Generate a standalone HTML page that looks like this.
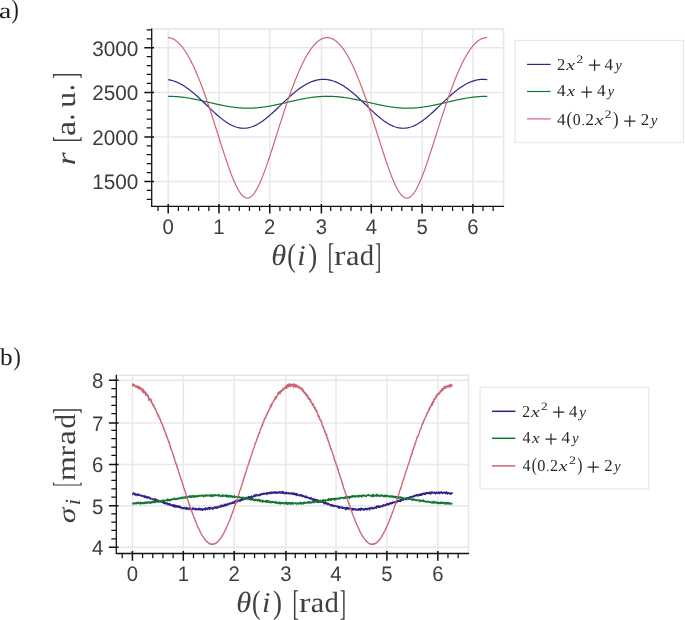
<!DOCTYPE html>
<html><head><meta charset="utf-8"><title>chart</title>
<style>
html,body{margin:0;padding:0;background:#fff;}
text{text-rendering:geometricPrecision;}
svg{will-change:transform;transform:translateZ(0);}
body{width:685px;height:620px;overflow:hidden;font-family:"Liberation Sans",sans-serif;}
svg{display:block}
</style></head>
<body>
<svg width="685" height="620" viewBox="0 0 685 620">

<path d="M151.7 28.9H503.5V206.4" fill="none" stroke="#e8e8e8" stroke-width="1.6"/>
<line x1="168.2" y1="28.9" x2="168.2" y2="206.4" stroke="#e8e8e8" stroke-width="1.5"/>
<line x1="218.98" y1="28.9" x2="218.98" y2="206.4" stroke="#e8e8e8" stroke-width="1.5"/>
<line x1="269.76" y1="28.9" x2="269.76" y2="206.4" stroke="#e8e8e8" stroke-width="1.5"/>
<line x1="321.39" y1="28.9" x2="321.39" y2="206.4" stroke="#e8e8e8" stroke-width="1.5"/>
<line x1="371.32" y1="28.9" x2="371.32" y2="206.4" stroke="#e8e8e8" stroke-width="1.5"/>
<line x1="422.1" y1="28.9" x2="422.1" y2="206.4" stroke="#e8e8e8" stroke-width="1.5"/>
<line x1="472.88" y1="28.9" x2="472.88" y2="206.4" stroke="#e8e8e8" stroke-width="1.5"/>
<line x1="151.7" y1="47.7" x2="503.5" y2="47.7" stroke="#e8e8e8" stroke-width="1.5"/>
<line x1="151.7" y1="92.5" x2="503.5" y2="92.5" stroke="#e8e8e8" stroke-width="1.5"/>
<line x1="151.7" y1="137.1" x2="503.5" y2="137.1" stroke="#e8e8e8" stroke-width="1.5"/>
<line x1="151.7" y1="181.4" x2="503.5" y2="181.4" stroke="#e8e8e8" stroke-width="1.5"/>
<path d="M168.2 79.68 L169 79.81 L169.8 79.96 L170.59 80.13 L171.39 80.32 L172.19 80.53 L172.99 80.76 L173.78 81.02 L174.58 81.29 L175.38 81.58 L176.18 81.9 L176.97 82.23 L177.77 82.58 L178.57 82.96 L179.37 83.35 L180.16 83.76 L180.96 84.19 L181.76 84.63 L182.56 85.1 L183.36 85.58 L184.15 86.08 L184.95 86.6 L185.75 87.13 L186.55 87.68 L187.34 88.24 L188.14 88.82 L188.94 89.41 L189.74 90.02 L190.53 90.64 L191.33 91.27 L192.13 91.92 L192.93 92.57 L193.72 93.24 L194.52 93.92 L195.32 94.61 L196.12 95.31 L196.92 96.02 L197.71 96.74 L198.51 97.47 L199.31 98.2 L200.11 98.94 L200.9 99.69 L201.7 100.44 L202.5 101.19 L203.3 101.95 L204.09 102.71 L204.89 103.48 L205.69 104.24 L206.49 105.01 L207.28 105.78 L208.08 106.55 L208.88 107.31 L209.68 108.08 L210.48 108.84 L211.27 109.6 L212.07 110.35 L212.87 111.1 L213.67 111.84 L214.46 112.57 L215.26 113.3 L216.06 114.02 L216.86 114.73 L217.65 115.43 L218.45 116.11 L219.25 116.79 L220.05 117.46 L220.84 118.11 L221.64 118.74 L222.44 119.37 L223.24 119.97 L224.04 120.56 L224.83 121.14 L225.63 121.69 L226.43 122.23 L227.23 122.75 L228.02 123.24 L228.82 123.72 L229.62 124.18 L230.42 124.61 L231.21 125.03 L232.01 125.42 L232.81 125.78 L233.61 126.13 L234.4 126.44 L235.2 126.74 L236 127.01 L236.8 127.25 L237.6 127.47 L238.39 127.66 L239.19 127.82 L239.99 127.96 L240.79 128.07 L241.58 128.16 L242.38 128.21 L243.18 128.24 L243.98 128.25 L244.77 128.22 L245.57 128.17 L246.37 128.09 L247.17 127.98 L247.97 127.85 L248.76 127.69 L249.56 127.5 L250.36 127.29 L251.16 127.05 L251.95 126.79 L252.75 126.5 L253.55 126.18 L254.35 125.85 L255.14 125.48 L255.94 125.1 L256.74 124.69 L257.54 124.26 L258.33 123.81 L259.13 123.33 L259.93 122.84 L260.73 122.32 L261.53 121.79 L262.32 121.24 L263.12 120.67 L263.92 120.08 L264.72 119.47 L265.51 118.85 L266.31 118.22 L267.11 117.57 L267.91 116.91 L268.7 116.24 L269.5 115.55 L270.3 114.85 L271.1 114.14 L271.89 113.43 L272.69 112.7 L273.49 111.97 L274.29 111.23 L275.09 110.48 L275.88 109.73 L276.68 108.97 L277.48 108.21 L278.28 107.45 L279.07 106.68 L279.87 105.92 L280.67 105.15 L281.47 104.38 L282.26 103.61 L283.06 102.85 L283.86 102.09 L284.66 101.33 L285.45 100.57 L286.25 99.82 L287.05 99.07 L287.85 98.33 L288.65 97.6 L289.44 96.87 L290.24 96.15 L291.04 95.44 L291.84 94.74 L292.63 94.04 L293.43 93.36 L294.23 92.69 L295.03 92.03 L295.82 91.38 L296.62 90.75 L297.42 90.12 L298.22 89.52 L299.01 88.92 L299.81 88.34 L300.61 87.77 L301.41 87.22 L302.21 86.69 L303 86.17 L303.8 85.67 L304.6 85.18 L305.4 84.72 L306.19 84.27 L306.99 83.83 L307.79 83.42 L308.59 83.03 L309.38 82.65 L310.18 82.29 L310.98 81.96 L311.78 81.64 L312.57 81.34 L313.37 81.06 L314.17 80.81 L314.97 80.57 L315.77 80.35 L316.56 80.16 L317.36 79.99 L318.16 79.83 L318.96 79.7 L319.75 79.59 L320.55 79.51 L321.35 79.44 L322.15 79.39 L322.94 79.37 L323.74 79.37 L324.54 79.39 L325.34 79.43 L326.13 79.49 L326.93 79.58 L327.73 79.68 L328.53 79.81 L329.33 79.96 L330.12 80.13 L330.92 80.32 L331.72 80.53 L332.52 80.76 L333.31 81.02 L334.11 81.29 L334.91 81.58 L335.71 81.9 L336.5 82.23 L337.3 82.58 L338.1 82.96 L338.9 83.35 L339.69 83.76 L340.49 84.19 L341.29 84.63 L342.09 85.1 L342.89 85.58 L343.68 86.08 L344.48 86.6 L345.28 87.13 L346.08 87.68 L346.87 88.24 L347.67 88.82 L348.47 89.41 L349.27 90.02 L350.06 90.64 L350.86 91.27 L351.66 91.92 L352.46 92.57 L353.25 93.24 L354.05 93.92 L354.85 94.61 L355.65 95.31 L356.45 96.02 L357.24 96.74 L358.04 97.47 L358.84 98.2 L359.64 98.94 L360.43 99.69 L361.23 100.44 L362.03 101.19 L362.83 101.95 L363.62 102.71 L364.42 103.48 L365.22 104.24 L366.02 105.01 L366.81 105.78 L367.61 106.55 L368.41 107.31 L369.21 108.08 L370.01 108.84 L370.8 109.6 L371.6 110.35 L372.4 111.1 L373.2 111.84 L373.99 112.57 L374.79 113.3 L375.59 114.02 L376.39 114.73 L377.18 115.43 L377.98 116.11 L378.78 116.79 L379.58 117.46 L380.37 118.11 L381.17 118.74 L381.97 119.37 L382.77 119.97 L383.57 120.56 L384.36 121.14 L385.16 121.69 L385.96 122.23 L386.76 122.75 L387.55 123.24 L388.35 123.72 L389.15 124.18 L389.95 124.61 L390.74 125.03 L391.54 125.42 L392.34 125.78 L393.14 126.13 L393.94 126.44 L394.73 126.74 L395.53 127.01 L396.33 127.25 L397.13 127.47 L397.92 127.66 L398.72 127.82 L399.52 127.96 L400.32 128.07 L401.11 128.16 L401.91 128.21 L402.71 128.24 L403.51 128.25 L404.3 128.22 L405.1 128.17 L405.9 128.09 L406.7 127.98 L407.5 127.85 L408.29 127.69 L409.09 127.5 L409.89 127.29 L410.69 127.05 L411.48 126.79 L412.28 126.5 L413.08 126.18 L413.88 125.85 L414.67 125.48 L415.47 125.1 L416.27 124.69 L417.07 124.26 L417.86 123.81 L418.66 123.33 L419.46 122.84 L420.26 122.32 L421.06 121.79 L421.85 121.24 L422.65 120.67 L423.45 120.08 L424.25 119.47 L425.04 118.85 L425.84 118.22 L426.64 117.57 L427.44 116.91 L428.23 116.24 L429.03 115.55 L429.83 114.85 L430.63 114.14 L431.42 113.43 L432.22 112.7 L433.02 111.97 L433.82 111.23 L434.62 110.48 L435.41 109.73 L436.21 108.97 L437.01 108.21 L437.81 107.45 L438.6 106.68 L439.4 105.92 L440.2 105.15 L441 104.38 L441.79 103.61 L442.59 102.85 L443.39 102.09 L444.19 101.33 L444.98 100.57 L445.78 99.82 L446.58 99.07 L447.38 98.33 L448.18 97.6 L448.97 96.87 L449.77 96.15 L450.57 95.44 L451.37 94.74 L452.16 94.04 L452.96 93.36 L453.76 92.69 L454.56 92.03 L455.35 91.38 L456.15 90.75 L456.95 90.12 L457.75 89.52 L458.54 88.92 L459.34 88.34 L460.14 87.77 L460.94 87.22 L461.74 86.69 L462.53 86.17 L463.33 85.67 L464.13 85.18 L464.93 84.72 L465.72 84.27 L466.52 83.83 L467.32 83.42 L468.12 83.03 L468.91 82.65 L469.71 82.29 L470.51 81.96 L471.31 81.64 L472.1 81.34 L472.9 81.06 L473.7 80.81 L474.5 80.57 L475.3 80.35 L476.09 80.16 L476.89 79.99 L477.69 79.83 L478.49 79.7 L479.28 79.59 L480.08 79.51 L480.88 79.44 L481.68 79.39 L482.47 79.37 L483.27 79.37 L484.07 79.39 L484.87 79.43 L485.66 79.49 L486.46 79.58 L487.26 79.68" fill="none" stroke="#332288" stroke-width="1.2" stroke-linejoin="round"/>
<path d="M168.2 96.31 L169 96.32 L169.8 96.33 L170.59 96.34 L171.39 96.36 L172.19 96.39 L172.99 96.42 L173.78 96.45 L174.58 96.5 L175.38 96.54 L176.18 96.6 L176.97 96.66 L177.77 96.72 L178.57 96.79 L179.37 96.86 L180.16 96.94 L180.96 97.03 L181.76 97.12 L182.56 97.21 L183.36 97.31 L184.15 97.42 L184.95 97.53 L185.75 97.64 L186.55 97.76 L187.34 97.88 L188.14 98.01 L188.94 98.14 L189.74 98.28 L190.53 98.42 L191.33 98.56 L192.13 98.71 L192.93 98.86 L193.72 99.01 L194.52 99.17 L195.32 99.33 L196.12 99.49 L196.92 99.65 L197.71 99.82 L198.51 99.99 L199.31 100.16 L200.11 100.34 L200.9 100.52 L201.7 100.69 L202.5 100.87 L203.3 101.06 L204.09 101.24 L204.89 101.42 L205.69 101.61 L206.49 101.79 L207.28 101.98 L208.08 102.16 L208.88 102.35 L209.68 102.54 L210.48 102.72 L211.27 102.91 L212.07 103.09 L212.87 103.28 L213.67 103.46 L214.46 103.64 L215.26 103.82 L216.06 104 L216.86 104.18 L217.65 104.36 L218.45 104.53 L219.25 104.7 L220.05 104.87 L220.84 105.04 L221.64 105.2 L222.44 105.36 L223.24 105.52 L224.04 105.68 L224.83 105.83 L225.63 105.98 L226.43 106.12 L227.23 106.26 L228.02 106.4 L228.82 106.53 L229.62 106.66 L230.42 106.78 L231.21 106.9 L232.01 107.02 L232.81 107.13 L233.61 107.23 L234.4 107.33 L235.2 107.42 L236 107.51 L236.8 107.6 L237.6 107.68 L238.39 107.75 L239.19 107.82 L239.99 107.88 L240.79 107.94 L241.58 107.99 L242.38 108.03 L243.18 108.07 L243.98 108.1 L244.77 108.13 L245.57 108.15 L246.37 108.17 L247.17 108.17 L247.97 108.18 L248.76 108.17 L249.56 108.17 L250.36 108.15 L251.16 108.13 L251.95 108.1 L252.75 108.07 L253.55 108.03 L254.35 107.99 L255.14 107.94 L255.94 107.88 L256.74 107.82 L257.54 107.75 L258.33 107.68 L259.13 107.6 L259.93 107.51 L260.73 107.42 L261.53 107.33 L262.32 107.23 L263.12 107.13 L263.92 107.02 L264.72 106.9 L265.51 106.78 L266.31 106.66 L267.11 106.53 L267.91 106.4 L268.7 106.26 L269.5 106.12 L270.3 105.98 L271.1 105.83 L271.89 105.68 L272.69 105.52 L273.49 105.36 L274.29 105.2 L275.09 105.04 L275.88 104.87 L276.68 104.7 L277.48 104.53 L278.28 104.36 L279.07 104.18 L279.87 104 L280.67 103.82 L281.47 103.64 L282.26 103.46 L283.06 103.28 L283.86 103.09 L284.66 102.91 L285.45 102.72 L286.25 102.54 L287.05 102.35 L287.85 102.16 L288.65 101.98 L289.44 101.79 L290.24 101.61 L291.04 101.42 L291.84 101.24 L292.63 101.06 L293.43 100.87 L294.23 100.69 L295.03 100.52 L295.82 100.34 L296.62 100.16 L297.42 99.99 L298.22 99.82 L299.01 99.65 L299.81 99.49 L300.61 99.33 L301.41 99.17 L302.21 99.01 L303 98.86 L303.8 98.71 L304.6 98.56 L305.4 98.42 L306.19 98.28 L306.99 98.14 L307.79 98.01 L308.59 97.88 L309.38 97.76 L310.18 97.64 L310.98 97.53 L311.78 97.42 L312.57 97.31 L313.37 97.21 L314.17 97.12 L314.97 97.03 L315.77 96.94 L316.56 96.86 L317.36 96.79 L318.16 96.72 L318.96 96.66 L319.75 96.6 L320.55 96.54 L321.35 96.5 L322.15 96.45 L322.94 96.42 L323.74 96.39 L324.54 96.36 L325.34 96.34 L326.13 96.33 L326.93 96.32 L327.73 96.31 L328.53 96.32 L329.33 96.33 L330.12 96.34 L330.92 96.36 L331.72 96.39 L332.52 96.42 L333.31 96.45 L334.11 96.5 L334.91 96.54 L335.71 96.6 L336.5 96.66 L337.3 96.72 L338.1 96.79 L338.9 96.86 L339.69 96.94 L340.49 97.03 L341.29 97.12 L342.09 97.21 L342.89 97.31 L343.68 97.42 L344.48 97.53 L345.28 97.64 L346.08 97.76 L346.87 97.88 L347.67 98.01 L348.47 98.14 L349.27 98.28 L350.06 98.42 L350.86 98.56 L351.66 98.71 L352.46 98.86 L353.25 99.01 L354.05 99.17 L354.85 99.33 L355.65 99.49 L356.45 99.65 L357.24 99.82 L358.04 99.99 L358.84 100.16 L359.64 100.34 L360.43 100.52 L361.23 100.69 L362.03 100.87 L362.83 101.06 L363.62 101.24 L364.42 101.42 L365.22 101.61 L366.02 101.79 L366.81 101.98 L367.61 102.16 L368.41 102.35 L369.21 102.54 L370.01 102.72 L370.8 102.91 L371.6 103.09 L372.4 103.28 L373.2 103.46 L373.99 103.64 L374.79 103.82 L375.59 104 L376.39 104.18 L377.18 104.36 L377.98 104.53 L378.78 104.7 L379.58 104.87 L380.37 105.04 L381.17 105.2 L381.97 105.36 L382.77 105.52 L383.57 105.68 L384.36 105.83 L385.16 105.98 L385.96 106.12 L386.76 106.26 L387.55 106.4 L388.35 106.53 L389.15 106.66 L389.95 106.78 L390.74 106.9 L391.54 107.02 L392.34 107.13 L393.14 107.23 L393.94 107.33 L394.73 107.42 L395.53 107.51 L396.33 107.6 L397.13 107.68 L397.92 107.75 L398.72 107.82 L399.52 107.88 L400.32 107.94 L401.11 107.99 L401.91 108.03 L402.71 108.07 L403.51 108.1 L404.3 108.13 L405.1 108.15 L405.9 108.17 L406.7 108.17 L407.5 108.18 L408.29 108.17 L409.09 108.17 L409.89 108.15 L410.69 108.13 L411.48 108.1 L412.28 108.07 L413.08 108.03 L413.88 107.99 L414.67 107.94 L415.47 107.88 L416.27 107.82 L417.07 107.75 L417.86 107.68 L418.66 107.6 L419.46 107.51 L420.26 107.42 L421.06 107.33 L421.85 107.23 L422.65 107.13 L423.45 107.02 L424.25 106.9 L425.04 106.78 L425.84 106.66 L426.64 106.53 L427.44 106.4 L428.23 106.26 L429.03 106.12 L429.83 105.98 L430.63 105.83 L431.42 105.68 L432.22 105.52 L433.02 105.36 L433.82 105.2 L434.62 105.04 L435.41 104.87 L436.21 104.7 L437.01 104.53 L437.81 104.36 L438.6 104.18 L439.4 104 L440.2 103.82 L441 103.64 L441.79 103.46 L442.59 103.28 L443.39 103.09 L444.19 102.91 L444.98 102.72 L445.78 102.54 L446.58 102.35 L447.38 102.16 L448.18 101.98 L448.97 101.79 L449.77 101.61 L450.57 101.42 L451.37 101.24 L452.16 101.06 L452.96 100.87 L453.76 100.69 L454.56 100.52 L455.35 100.34 L456.15 100.16 L456.95 99.99 L457.75 99.82 L458.54 99.65 L459.34 99.49 L460.14 99.33 L460.94 99.17 L461.74 99.01 L462.53 98.86 L463.33 98.71 L464.13 98.56 L464.93 98.42 L465.72 98.28 L466.52 98.14 L467.32 98.01 L468.12 97.88 L468.91 97.76 L469.71 97.64 L470.51 97.53 L471.31 97.42 L472.1 97.31 L472.9 97.21 L473.7 97.12 L474.5 97.03 L475.3 96.94 L476.09 96.86 L476.89 96.79 L477.69 96.72 L478.49 96.66 L479.28 96.6 L480.08 96.54 L480.88 96.5 L481.68 96.45 L482.47 96.42 L483.27 96.39 L484.07 96.36 L484.87 96.34 L485.66 96.33 L486.46 96.32 L487.26 96.31" fill="none" stroke="#117733" stroke-width="1.2" stroke-linejoin="round"/>
<path d="M168.2 37.64 L169 37.71 L169.8 37.84 L170.59 38.02 L171.39 38.26 L172.19 38.55 L172.99 38.91 L173.78 39.31 L174.58 39.78 L175.38 40.3 L176.18 40.87 L176.97 41.5 L177.77 42.18 L178.57 42.92 L179.37 43.71 L180.16 44.56 L180.96 45.46 L181.76 46.42 L182.56 47.42 L183.36 48.48 L184.15 49.59 L184.95 50.76 L185.75 51.97 L186.55 53.23 L187.34 54.55 L188.14 55.91 L188.94 57.33 L189.74 58.79 L190.53 60.3 L191.33 61.85 L192.13 63.46 L192.93 65.11 L193.72 66.8 L194.52 68.54 L195.32 70.32 L196.12 72.14 L196.92 74.01 L197.71 75.92 L198.51 77.87 L199.31 79.85 L200.11 81.88 L200.9 83.94 L201.7 86.03 L202.5 88.17 L203.3 90.33 L204.09 92.53 L204.89 94.76 L205.69 97.02 L206.49 99.31 L207.28 101.63 L208.08 103.97 L208.88 106.33 L209.68 108.72 L210.48 111.13 L211.27 113.56 L212.07 116.01 L212.87 118.48 L213.67 120.95 L214.46 123.45 L215.26 125.95 L216.06 128.46 L216.86 130.97 L217.65 133.49 L218.45 136.01 L219.25 138.53 L220.05 141.05 L220.84 143.56 L221.64 146.06 L222.44 148.54 L223.24 151.02 L224.04 153.47 L224.83 155.9 L225.63 158.31 L226.43 160.69 L227.23 163.03 L228.02 165.34 L228.82 167.61 L229.62 169.84 L230.42 172.01 L231.21 174.13 L232.01 176.2 L232.81 178.2 L233.61 180.13 L234.4 181.99 L235.2 183.78 L236 185.48 L236.8 187.09 L237.6 188.61 L238.39 190.03 L239.19 191.36 L239.99 192.57 L240.79 193.68 L241.58 194.66 L242.38 195.53 L243.18 196.28 L243.98 196.9 L244.77 197.4 L245.57 197.76 L246.37 197.99 L247.17 198.09 L247.97 198.05 L248.76 197.88 L249.56 197.58 L250.36 197.15 L251.16 196.59 L251.95 195.9 L252.75 195.09 L253.55 194.16 L254.35 193.11 L255.14 191.94 L255.94 190.67 L256.74 189.3 L257.54 187.82 L258.33 186.25 L259.13 184.59 L259.93 182.84 L260.73 181.02 L261.53 179.12 L262.32 177.15 L263.12 175.12 L263.92 173.02 L264.72 170.87 L265.51 168.67 L266.31 166.42 L267.11 164.13 L267.91 161.8 L268.7 159.44 L269.5 157.04 L270.3 154.62 L271.1 152.18 L271.89 149.71 L272.69 147.23 L273.49 144.74 L274.29 142.23 L275.09 139.72 L275.88 137.2 L276.68 134.68 L277.48 132.16 L278.28 129.64 L279.07 127.13 L279.87 124.62 L280.67 122.13 L281.47 119.64 L282.26 117.17 L283.06 114.72 L283.86 112.28 L284.66 109.86 L285.45 107.46 L286.25 105.08 L287.05 102.73 L287.85 100.4 L288.65 98.1 L289.44 95.82 L290.24 93.58 L291.04 91.37 L291.84 89.19 L292.63 87.04 L293.43 84.92 L294.23 82.84 L295.03 80.8 L295.82 78.8 L296.62 76.83 L297.42 74.91 L298.22 73.02 L299.01 71.18 L299.81 69.37 L300.61 67.62 L301.41 65.9 L302.21 64.23 L303 62.61 L303.8 61.03 L304.6 59.49 L305.4 58.01 L306.19 56.57 L306.99 55.19 L307.79 53.85 L308.59 52.56 L309.38 51.32 L310.18 50.13 L310.98 49 L311.78 47.92 L312.57 46.88 L313.37 45.91 L314.17 44.98 L314.97 44.11 L315.77 43.29 L316.56 42.53 L317.36 41.82 L318.16 41.16 L318.96 40.56 L319.75 40.02 L320.55 39.53 L321.35 39.09 L322.15 38.71 L322.94 38.39 L323.74 38.13 L324.54 37.92 L325.34 37.76 L326.13 37.66 L326.93 37.62 L327.73 37.64 L328.53 37.71 L329.33 37.84 L330.12 38.02 L330.92 38.26 L331.72 38.55 L332.52 38.91 L333.31 39.31 L334.11 39.78 L334.91 40.3 L335.71 40.87 L336.5 41.5 L337.3 42.18 L338.1 42.92 L338.9 43.71 L339.69 44.56 L340.49 45.46 L341.29 46.42 L342.09 47.42 L342.89 48.48 L343.68 49.59 L344.48 50.76 L345.28 51.97 L346.08 53.23 L346.87 54.55 L347.67 55.91 L348.47 57.33 L349.27 58.79 L350.06 60.3 L350.86 61.85 L351.66 63.46 L352.46 65.11 L353.25 66.8 L354.05 68.54 L354.85 70.32 L355.65 72.14 L356.45 74.01 L357.24 75.92 L358.04 77.87 L358.84 79.85 L359.64 81.88 L360.43 83.94 L361.23 86.03 L362.03 88.17 L362.83 90.33 L363.62 92.53 L364.42 94.76 L365.22 97.02 L366.02 99.31 L366.81 101.63 L367.61 103.97 L368.41 106.33 L369.21 108.72 L370.01 111.13 L370.8 113.56 L371.6 116.01 L372.4 118.48 L373.2 120.95 L373.99 123.45 L374.79 125.95 L375.59 128.46 L376.39 130.97 L377.18 133.49 L377.98 136.01 L378.78 138.53 L379.58 141.05 L380.37 143.56 L381.17 146.06 L381.97 148.54 L382.77 151.02 L383.57 153.47 L384.36 155.9 L385.16 158.31 L385.96 160.69 L386.76 163.03 L387.55 165.34 L388.35 167.61 L389.15 169.84 L389.95 172.01 L390.74 174.13 L391.54 176.2 L392.34 178.2 L393.14 180.13 L393.94 181.99 L394.73 183.78 L395.53 185.48 L396.33 187.09 L397.13 188.61 L397.92 190.03 L398.72 191.36 L399.52 192.57 L400.32 193.68 L401.11 194.66 L401.91 195.53 L402.71 196.28 L403.51 196.9 L404.3 197.4 L405.1 197.76 L405.9 197.99 L406.7 198.09 L407.5 198.05 L408.29 197.88 L409.09 197.58 L409.89 197.15 L410.69 196.59 L411.48 195.9 L412.28 195.09 L413.08 194.16 L413.88 193.11 L414.67 191.94 L415.47 190.67 L416.27 189.3 L417.07 187.82 L417.86 186.25 L418.66 184.59 L419.46 182.84 L420.26 181.02 L421.06 179.12 L421.85 177.15 L422.65 175.12 L423.45 173.02 L424.25 170.87 L425.04 168.67 L425.84 166.42 L426.64 164.13 L427.44 161.8 L428.23 159.44 L429.03 157.04 L429.83 154.62 L430.63 152.18 L431.42 149.71 L432.22 147.23 L433.02 144.74 L433.82 142.23 L434.62 139.72 L435.41 137.2 L436.21 134.68 L437.01 132.16 L437.81 129.64 L438.6 127.13 L439.4 124.62 L440.2 122.13 L441 119.64 L441.79 117.17 L442.59 114.72 L443.39 112.28 L444.19 109.86 L444.98 107.46 L445.78 105.08 L446.58 102.73 L447.38 100.4 L448.18 98.1 L448.97 95.82 L449.77 93.58 L450.57 91.37 L451.37 89.19 L452.16 87.04 L452.96 84.92 L453.76 82.84 L454.56 80.8 L455.35 78.8 L456.15 76.83 L456.95 74.91 L457.75 73.02 L458.54 71.18 L459.34 69.37 L460.14 67.62 L460.94 65.9 L461.74 64.23 L462.53 62.61 L463.33 61.03 L464.13 59.49 L464.93 58.01 L465.72 56.57 L466.52 55.19 L467.32 53.85 L468.12 52.56 L468.91 51.32 L469.71 50.13 L470.51 49 L471.31 47.92 L472.1 46.88 L472.9 45.91 L473.7 44.98 L474.5 44.11 L475.3 43.29 L476.09 42.53 L476.89 41.82 L477.69 41.16 L478.49 40.56 L479.28 40.02 L480.08 39.53 L480.88 39.09 L481.68 38.71 L482.47 38.39 L483.27 38.13 L484.07 37.92 L484.87 37.76 L485.66 37.66 L486.46 37.62 L487.26 37.64" fill="none" stroke="#CC6677" stroke-width="1.2" stroke-linejoin="round"/>
<path d="M151.7 28.4V206.4H504.0" fill="none" stroke="#111" stroke-width="1.3"/>
<path d="M158.04 206.4v4.7M178.36 206.4v4.7M188.51 206.4v4.7M198.67 206.4v4.7M208.82 206.4v4.7M229.14 206.4v4.7M239.29 206.4v4.7M249.45 206.4v4.7M259.6 206.4v4.7M279.92 206.4v4.7M290.07 206.4v4.7M300.23 206.4v4.7M310.38 206.4v4.7M330.7 206.4v4.7M340.85 206.4v4.7M351.01 206.4v4.7M361.16 206.4v4.7M381.48 206.4v4.7M391.63 206.4v4.7M401.79 206.4v4.7M411.94 206.4v4.7M432.26 206.4v4.7M442.41 206.4v4.7M452.57 206.4v4.7M462.72 206.4v4.7M483.04 206.4v4.7M493.19 206.4v4.7M151.7 199.34h-5M151.7 190.42h-5M151.7 172.58h-5M151.7 163.66h-5M151.7 154.74h-5M151.7 145.82h-5M151.7 127.98h-5M151.7 119.06h-5M151.7 110.14h-5M151.7 101.22h-5M151.7 83.38h-5M151.7 74.46h-5M151.7 65.54h-5M151.7 56.62h-5M151.7 38.78h-5M151.7 29.86h-5" fill="none" stroke="#111" stroke-width="1.25"/>
<path d="M168.2 204.0v9.6M218.98 204.0v9.6M269.76 204.0v9.6M321.39 204.0v9.6M371.32 204.0v9.6M422.1 204.0v9.6M472.88 204.0v9.6M154.0 47.7h-9.7M154.0 92.5h-9.7M154.0 137.1h-9.7M154.0 181.4h-9.7" fill="none" stroke="#111" stroke-width="1.5"/>
<text x="168.2" y="233.7" text-anchor="middle" font-family="Liberation Sans, sans-serif" font-size="21" fill="#3d3d3d" textLength="11.3" lengthAdjust="spacingAndGlyphs">0</text>
<text x="218.98" y="233.7" text-anchor="middle" font-family="Liberation Sans, sans-serif" font-size="21" fill="#3d3d3d" textLength="11.3" lengthAdjust="spacingAndGlyphs">1</text>
<text x="269.76" y="233.7" text-anchor="middle" font-family="Liberation Sans, sans-serif" font-size="21" fill="#3d3d3d" textLength="11.3" lengthAdjust="spacingAndGlyphs">2</text>
<text x="321.39" y="233.7" text-anchor="middle" font-family="Liberation Sans, sans-serif" font-size="21" fill="#3d3d3d" textLength="11.3" lengthAdjust="spacingAndGlyphs">3</text>
<text x="371.32" y="233.7" text-anchor="middle" font-family="Liberation Sans, sans-serif" font-size="21" fill="#3d3d3d" textLength="11.3" lengthAdjust="spacingAndGlyphs">4</text>
<text x="422.1" y="233.7" text-anchor="middle" font-family="Liberation Sans, sans-serif" font-size="21" fill="#3d3d3d" textLength="11.3" lengthAdjust="spacingAndGlyphs">5</text>
<text x="472.88" y="233.7" text-anchor="middle" font-family="Liberation Sans, sans-serif" font-size="21" fill="#3d3d3d" textLength="11.3" lengthAdjust="spacingAndGlyphs">6</text>
<text x="138.4" y="55.55" text-anchor="end" font-family="Liberation Sans, sans-serif" font-size="21" fill="#3d3d3d" textLength="46.2" lengthAdjust="spacingAndGlyphs">3000</text>
<text x="138.4" y="100.35" text-anchor="end" font-family="Liberation Sans, sans-serif" font-size="21" fill="#3d3d3d" textLength="46.2" lengthAdjust="spacingAndGlyphs">2500</text>
<text x="138.4" y="144.95" text-anchor="end" font-family="Liberation Sans, sans-serif" font-size="21" fill="#3d3d3d" textLength="46.2" lengthAdjust="spacingAndGlyphs">2000</text>
<text x="138.4" y="189.25" text-anchor="end" font-family="Liberation Sans, sans-serif" font-size="21" fill="#3d3d3d" textLength="46.2" lengthAdjust="spacingAndGlyphs">1500</text>
<path d="M116.3 375.2H468.5V553.5" fill="none" stroke="#e8e8e8" stroke-width="1.6"/>
<line x1="132.4" y1="375.2" x2="132.4" y2="553.5" stroke="#e8e8e8" stroke-width="1.5"/>
<line x1="183.3" y1="375.2" x2="183.3" y2="553.5" stroke="#e8e8e8" stroke-width="1.5"/>
<line x1="234.2" y1="375.2" x2="234.2" y2="553.5" stroke="#e8e8e8" stroke-width="1.5"/>
<line x1="285.95" y1="375.2" x2="285.95" y2="553.5" stroke="#e8e8e8" stroke-width="1.5"/>
<line x1="336" y1="375.2" x2="336" y2="553.5" stroke="#e8e8e8" stroke-width="1.5"/>
<line x1="386.9" y1="375.2" x2="386.9" y2="553.5" stroke="#e8e8e8" stroke-width="1.5"/>
<line x1="437.8" y1="375.2" x2="437.8" y2="553.5" stroke="#e8e8e8" stroke-width="1.5"/>
<line x1="116.3" y1="380.3" x2="468.5" y2="380.3" stroke="#e8e8e8" stroke-width="1.5"/>
<line x1="116.3" y1="423" x2="468.5" y2="423" stroke="#e8e8e8" stroke-width="1.5"/>
<line x1="116.3" y1="464.4" x2="468.5" y2="464.4" stroke="#e8e8e8" stroke-width="1.5"/>
<line x1="116.3" y1="505.7" x2="468.5" y2="505.7" stroke="#e8e8e8" stroke-width="1.5"/>
<line x1="116.3" y1="547.2" x2="468.5" y2="547.2" stroke="#e8e8e8" stroke-width="1.5"/>
<path d="M132.4 493.88 L132.6 494.3 L132.8 493.77 L133 494.61 L133.2 493.72 L133.4 493.34 L133.6 492.63 L133.8 493.21 L134 493.34 L134.2 493.64 L134.4 493.29 L134.6 494.13 L134.8 493.96 L135 495.12 L135.2 494.48 L135.4 493.7 L135.6 495.16 L135.8 494.19 L136 494.42 L136.2 494.61 L136.4 494.32 L136.6 494.51 L136.8 495.12 L137 494.64 L137.2 495.55 L137.4 493.95 L137.6 494.75 L137.8 494.34 L138 495.28 L138.2 493.96 L138.4 494.41 L138.6 494.79 L138.8 494.9 L139 494.87 L139.2 495.47 L139.4 495.22 L139.6 495.31 L139.8 495.06 L140 494.54 L140.2 494.77 L140.4 495.26 L140.6 495.13 L140.8 495.64 L141 495.79 L141.19 496.4 L141.39 496.28 L141.59 496.29 L141.79 495.79 L141.99 495.89 L142.19 495.64 L142.39 495.34 L142.59 495.63 L142.79 496.09 L142.99 496.3 L143.19 496.27 L143.39 495.88 L143.59 496.69 L143.79 497.03 L143.99 496.45 L144.19 495.88 L144.39 495.85 L144.59 496.21 L144.79 497.52 L144.99 496.7 L145.19 496.33 L145.39 496.2 L145.59 495.88 L145.79 497.32 L145.99 496.73 L146.19 497.74 L146.39 497.13 L146.59 497.28 L146.79 496.74 L146.99 497.12 L147.19 498.13 L147.39 497.38 L147.59 497.2 L147.79 496.72 L147.99 497.86 L148.19 497.99 L148.39 497.91 L148.59 497.17 L148.79 497.89 L148.99 497.76 L149.19 497.65 L149.39 498.34 L149.59 497.45 L149.79 498.86 L149.99 497.21 L150.19 498.51 L150.39 498.69 L150.59 498.67 L150.79 498.94 L150.99 498.86 L151.19 498.89 L151.39 499.13 L151.59 498.7 L151.79 498.52 L151.99 499.03 L152.19 498.72 L152.39 499.29 L152.59 498.83 L152.79 499.16 L152.99 499.61 L153.19 499.08 L153.39 499.28 L153.59 499.59 L153.79 499.35 L153.99 499.12 L154.19 500.06 L154.39 499.77 L154.59 499.27 L154.79 499.65 L154.99 499.32 L155.19 498.59 L155.39 500.47 L155.59 499.73 L155.79 500.16 L155.99 499.33 L156.19 499.82 L156.39 500.86 L156.59 499.7 L156.79 500.3 L156.99 500.52 L157.19 500.43 L157.39 500.39 L157.59 500.99 L157.79 500.82 L157.99 500.02 L158.19 501.27 L158.38 501.13 L158.58 500.51 L158.78 501.43 L158.98 501.13 L159.18 500.94 L159.38 501.61 L159.58 501.38 L159.78 501.74 L159.98 501.46 L160.18 501.28 L160.38 501.48 L160.58 501.43 L160.78 501.43 L160.98 501.29 L161.18 502.28 L161.38 501.76 L161.58 501.1 L161.78 502.07 L161.98 502.15 L162.18 502.08 L162.38 502.5 L162.58 501.93 L162.78 502.28 L162.98 502.42 L163.18 502.03 L163.38 501.87 L163.58 503.24 L163.78 502.85 L163.98 502.8 L164.18 503.43 L164.38 502.45 L164.58 501.8 L164.78 502.52 L164.98 502.35 L165.18 504.02 L165.38 503.33 L165.58 503.83 L165.78 502.85 L165.98 503.36 L166.18 503.45 L166.38 503.18 L166.58 503.11 L166.78 502.74 L166.98 502.93 L167.18 503.21 L167.38 504.55 L167.58 503.18 L167.78 503.82 L167.98 504.68 L168.18 503.9 L168.38 504.17 L168.58 504.15 L168.78 503.69 L168.98 504.9 L169.18 503.97 L169.38 503.75 L169.58 504.97 L169.78 503.77 L169.98 504.86 L170.18 504.96 L170.38 504.18 L170.58 504.71 L170.78 505.68 L170.98 505.14 L171.18 504.54 L171.38 505.21 L171.58 505.23 L171.78 505.05 L171.98 505.11 L172.18 505.51 L172.38 505.69 L172.58 505.06 L172.78 504.72 L172.98 506.66 L173.18 505.24 L173.38 505 L173.58 506 L173.78 504.9 L173.98 506.42 L174.18 505.24 L174.38 504.97 L174.58 505.06 L174.78 507.21 L174.98 505.9 L175.18 506.49 L175.38 505.84 L175.57 505.39 L175.77 505.94 L175.97 505.38 L176.17 507.08 L176.37 506.72 L176.57 506.61 L176.77 506.06 L176.97 505.84 L177.17 506.91 L177.37 507.01 L177.57 506.15 L177.77 507.3 L177.97 506.41 L178.17 507.14 L178.37 506.83 L178.57 505.8 L178.77 507.01 L178.97 506.9 L179.17 507.37 L179.37 506.74 L179.57 506.3 L179.77 506.78 L179.97 507.8 L180.17 507.01 L180.37 506.46 L180.57 507.76 L180.77 507.39 L180.97 507.83 L181.17 507.7 L181.37 507.94 L181.57 508.16 L181.77 507.29 L181.97 507.6 L182.17 508.7 L182.37 508.17 L182.57 508.05 L182.77 508.28 L182.97 507.69 L183.17 507.9 L183.37 507.65 L183.57 508.55 L183.77 508.29 L183.97 508.17 L184.17 508.17 L184.37 508.2 L184.57 508.44 L184.77 508.15 L184.97 507.3 L185.17 508.53 L185.37 509.02 L185.57 508.08 L185.77 508.71 L185.97 507.88 L186.17 507.79 L186.37 507.51 L186.57 508.3 L186.77 509.25 L186.97 507.63 L187.17 508 L187.37 507.85 L187.57 508.47 L187.77 508.72 L187.97 508.56 L188.17 509.52 L188.37 508.13 L188.57 508.96 L188.77 508.99 L188.97 508.52 L189.17 509.16 L189.37 508.35 L189.57 509.08 L189.77 507.62 L189.97 508.19 L190.17 508.5 L190.37 508.7 L190.57 508.85 L190.77 509.15 L190.97 509.88 L191.17 509.21 L191.37 509.35 L191.57 509.23 L191.77 508.95 L191.97 509.95 L192.17 509.65 L192.37 509.38 L192.57 509.29 L192.76 508.62 L192.96 507.76 L193.16 509.18 L193.36 508.79 L193.56 509.13 L193.76 509.01 L193.96 508.28 L194.16 509.08 L194.36 508.89 L194.56 509.16 L194.76 509.51 L194.96 508.67 L195.16 509.3 L195.36 508.49 L195.56 509.79 L195.76 509.01 L195.96 508.41 L196.16 509.56 L196.36 509.08 L196.56 508.52 L196.76 509.05 L196.96 509.68 L197.16 509.44 L197.36 509.12 L197.56 509.58 L197.76 509.49 L197.96 509.22 L198.16 509.91 L198.36 508.46 L198.56 509.59 L198.76 509.3 L198.96 509.24 L199.16 508.58 L199.36 509.48 L199.56 508.26 L199.76 508.35 L199.96 508.91 L200.16 509.95 L200.36 509.92 L200.56 509.39 L200.76 509.12 L200.96 508.93 L201.16 508.64 L201.36 509.01 L201.56 509.2 L201.76 509.03 L201.96 510.23 L202.16 508.63 L202.36 509.96 L202.56 510.16 L202.76 509.53 L202.96 509.38 L203.16 509.77 L203.36 509.25 L203.56 509.09 L203.76 508.81 L203.96 508.91 L204.16 509.35 L204.36 509.02 L204.56 508.43 L204.76 509.18 L204.96 509.1 L205.16 510.08 L205.36 508.85 L205.56 507.96 L205.76 508.59 L205.96 509.05 L206.16 508.3 L206.36 508.28 L206.56 508.2 L206.76 509.44 L206.96 509.42 L207.16 508.46 L207.36 508.53 L207.56 508.55 L207.76 509.48 L207.96 508.34 L208.16 507.74 L208.36 508.08 L208.56 507.37 L208.76 508.39 L208.96 508.54 L209.16 507.67 L209.36 508.05 L209.56 509.67 L209.76 509.27 L209.95 508.33 L210.15 508.7 L210.35 507.51 L210.55 507.59 L210.75 507.71 L210.95 508.48 L211.15 508.4 L211.35 507.86 L211.55 508.39 L211.75 507.85 L211.95 508.01 L212.15 507.74 L212.35 508.04 L212.55 508.44 L212.75 509.49 L212.95 508.67 L213.15 508.69 L213.35 507.58 L213.55 508.61 L213.75 508.14 L213.95 507.57 L214.15 507.43 L214.35 507.22 L214.55 507.47 L214.75 506.88 L214.95 507.91 L215.15 506.99 L215.35 508.22 L215.55 507.71 L215.75 507.25 L215.95 507.11 L216.15 507.51 L216.35 507.66 L216.55 507.91 L216.75 508.4 L216.95 508.19 L217.15 506.35 L217.35 508.03 L217.55 507.87 L217.75 507.86 L217.95 507.13 L218.15 507.08 L218.35 507.2 L218.55 507.51 L218.75 506.88 L218.95 507.48 L219.15 506.55 L219.35 505.91 L219.55 507.1 L219.75 506.46 L219.95 506.78 L220.15 506.67 L220.35 507.09 L220.55 506.34 L220.75 506.33 L220.95 505.63 L221.15 505.01 L221.35 506.71 L221.55 505.55 L221.75 506.49 L221.95 506.29 L222.15 506.56 L222.35 505.67 L222.55 505.24 L222.75 505.86 L222.95 505.64 L223.15 506.11 L223.35 505.8 L223.55 506.25 L223.75 505.57 L223.95 506.5 L224.15 504.27 L224.35 504.73 L224.55 505.61 L224.75 505.5 L224.95 505.42 L225.15 505.09 L225.35 504.97 L225.55 504.08 L225.75 505.21 L225.95 505.88 L226.15 504.73 L226.35 504.59 L226.55 505.16 L226.75 504.27 L226.95 504.72 L227.14 504.97 L227.34 504.55 L227.54 505.1 L227.74 504.59 L227.94 503.46 L228.14 503.66 L228.34 503.9 L228.54 504.08 L228.74 503.94 L228.94 504.62 L229.14 503.87 L229.34 504.26 L229.54 504.15 L229.74 502.98 L229.94 504.08 L230.14 503.62 L230.34 503.54 L230.54 503.02 L230.74 503.58 L230.94 503.15 L231.14 503.14 L231.34 503.36 L231.54 503.5 L231.74 503.67 L231.94 502.54 L232.14 503.45 L232.34 502.37 L232.54 502.04 L232.74 503.1 L232.94 503.24 L233.14 503.2 L233.34 502.89 L233.54 501.9 L233.74 502.89 L233.94 502.97 L234.14 503.2 L234.34 502.26 L234.54 502.02 L234.74 501.42 L234.94 501.98 L235.14 502.06 L235.34 502 L235.54 500.45 L235.74 501.05 L235.94 501.33 L236.14 501.88 L236.34 501.74 L236.54 501.63 L236.74 501.57 L236.94 501.21 L237.14 501.73 L237.34 500.37 L237.54 501.75 L237.74 500.86 L237.94 500.74 L238.14 500.58 L238.34 500.3 L238.54 500.77 L238.74 500.75 L238.94 500.06 L239.14 500.07 L239.34 500.66 L239.54 500.16 L239.74 501.13 L239.94 500.26 L240.14 501.44 L240.34 499.71 L240.54 500.58 L240.74 499.73 L240.94 499.9 L241.14 500.36 L241.34 499.57 L241.54 499.1 L241.74 500.3 L241.94 498.85 L242.14 499.54 L242.34 500.12 L242.54 499.73 L242.74 499.35 L242.94 499.11 L243.14 499.81 L243.34 499.53 L243.54 499.03 L243.74 499.07 L243.94 498.16 L244.14 498.66 L244.33 498.57 L244.53 499.4 L244.73 499.33 L244.93 499.35 L245.13 498.79 L245.33 498.38 L245.53 497.78 L245.73 498.07 L245.93 498.91 L246.13 498.47 L246.33 497.29 L246.53 498.25 L246.73 497.98 L246.93 498.88 L247.13 498.82 L247.33 498.3 L247.53 498.13 L247.73 497.67 L247.93 497.94 L248.13 498.67 L248.33 496.54 L248.53 497.5 L248.73 498.47 L248.93 496.73 L249.13 497.09 L249.33 497.54 L249.53 497.37 L249.73 497.08 L249.93 498.42 L250.13 496.71 L250.33 497.02 L250.53 496.75 L250.73 497.32 L250.93 497.29 L251.13 496.12 L251.33 498.54 L251.53 496.19 L251.73 496.16 L251.93 497.49 L252.13 496.75 L252.33 496.92 L252.53 496.8 L252.73 497.1 L252.93 497.08 L253.13 496.31 L253.33 496.44 L253.53 495.95 L253.73 495.8 L253.93 496.41 L254.13 495.03 L254.33 495.2 L254.53 496.75 L254.73 495.99 L254.93 496.04 L255.13 495.6 L255.33 496.25 L255.53 494.91 L255.73 495.85 L255.93 494.54 L256.13 495.94 L256.33 494.52 L256.53 495.24 L256.73 494.94 L256.93 495.18 L257.13 495.12 L257.33 495.75 L257.53 495.3 L257.73 495.52 L257.93 495.22 L258.13 495.25 L258.33 494.63 L258.53 494.83 L258.73 495.07 L258.93 495.75 L259.13 494.36 L259.33 495.16 L259.53 494.93 L259.73 494.48 L259.93 494.68 L260.13 494.57 L260.33 494.52 L260.53 495.47 L260.73 494.13 L260.93 494.54 L261.13 494.02 L261.33 494.32 L261.52 494.53 L261.72 493.56 L261.92 494.18 L262.12 493.7 L262.32 493.85 L262.52 493.72 L262.72 493.56 L262.92 493.73 L263.12 494.47 L263.32 494.09 L263.52 493.26 L263.72 493.97 L263.92 494.04 L264.12 493.81 L264.32 493.32 L264.52 494.17 L264.72 493.75 L264.92 493.91 L265.12 493.99 L265.32 493.25 L265.52 493.87 L265.72 493.54 L265.92 493.34 L266.12 493.26 L266.32 493.23 L266.52 493.06 L266.72 493.77 L266.92 494.58 L267.12 492.92 L267.32 492.5 L267.52 493.48 L267.72 493.25 L267.92 492.8 L268.12 493.61 L268.32 493.21 L268.52 493.37 L268.72 492.86 L268.92 493.08 L269.12 492.27 L269.32 493.51 L269.52 493.38 L269.72 493.71 L269.92 492.88 L270.12 493.03 L270.32 493.06 L270.52 492.63 L270.72 493.39 L270.92 493.59 L271.12 491.82 L271.32 492.84 L271.52 493.31 L271.72 492.3 L271.92 492.73 L272.12 493.25 L272.32 492.6 L272.52 492.23 L272.72 492.37 L272.92 492.76 L273.12 491.87 L273.32 493.11 L273.52 492.77 L273.72 492.43 L273.92 493.15 L274.12 492.3 L274.32 492.44 L274.52 492.13 L274.72 492.45 L274.92 491.61 L275.12 493.25 L275.32 492.76 L275.52 492.82 L275.72 492.56 L275.92 492.24 L276.12 493.06 L276.32 492.05 L276.52 491.98 L276.72 492.47 L276.92 493.2 L277.12 492.21 L277.32 492.3 L277.52 492.98 L277.72 492.85 L277.92 492.77 L278.12 493.21 L278.32 492.33 L278.52 491.96 L278.71 492.33 L278.91 492.85 L279.11 492.53 L279.31 492.52 L279.51 491.6 L279.71 492.73 L279.91 492.27 L280.11 492.67 L280.31 491.95 L280.51 492.93 L280.71 492.28 L280.91 492.72 L281.11 492.25 L281.31 493.25 L281.51 492.6 L281.71 492.02 L281.91 492.24 L282.11 493.1 L282.31 491.32 L282.51 492.38 L282.71 492.74 L282.91 492.8 L283.11 493.1 L283.31 491.89 L283.51 492.03 L283.71 491.96 L283.91 493.19 L284.11 493.63 L284.31 493.79 L284.51 493.46 L284.71 493.03 L284.91 493.36 L285.11 493.61 L285.31 492.56 L285.51 493.17 L285.71 492.69 L285.91 492.27 L286.11 493.29 L286.31 493.16 L286.51 492.31 L286.71 493.7 L286.91 493.21 L287.11 493.57 L287.31 493.13 L287.51 493.35 L287.71 492.97 L287.91 493.33 L288.11 492.53 L288.31 493.53 L288.51 493.21 L288.71 492.86 L288.91 493.66 L289.11 493.56 L289.31 493.34 L289.51 493.5 L289.71 492.94 L289.91 493.72 L290.11 494.14 L290.31 493.1 L290.51 493.86 L290.71 493.8 L290.91 493.64 L291.11 492.98 L291.31 493.18 L291.51 493.51 L291.71 493.5 L291.91 493.88 L292.11 492.85 L292.31 493.22 L292.51 494.19 L292.71 493.35 L292.91 494.5 L293.11 494.28 L293.31 494.25 L293.51 493.15 L293.71 493 L293.91 494 L294.11 494.3 L294.31 493.43 L294.51 494.39 L294.71 493.37 L294.91 494.68 L295.11 493.76 L295.31 494.68 L295.51 493.46 L295.71 494.3 L295.9 494.73 L296.1 494.39 L296.3 495.68 L296.5 494.5 L296.7 494.24 L296.9 493.45 L297.1 495.19 L297.3 494.11 L297.5 494.11 L297.7 494.43 L297.9 495 L298.1 494.8 L298.3 495.34 L298.5 494.83 L298.7 495.6 L298.9 495.32 L299.1 495.07 L299.3 495.61 L299.5 495.84 L299.7 495.3 L299.9 495.16 L300.1 495.03 L300.3 495.2 L300.5 494.63 L300.7 495.52 L300.9 494.89 L301.1 496.11 L301.3 495.33 L301.5 495.34 L301.7 494.83 L301.9 496.11 L302.1 494.94 L302.3 495.97 L302.5 496.18 L302.7 496.85 L302.9 495.62 L303.1 496.4 L303.3 495.76 L303.5 496.15 L303.7 495.9 L303.9 496.32 L304.1 496.74 L304.3 496.68 L304.5 496.51 L304.7 496.35 L304.9 497.01 L305.1 496.22 L305.3 497.75 L305.5 497.45 L305.7 496.51 L305.9 496.75 L306.1 495.95 L306.3 496.5 L306.5 497.59 L306.7 497.69 L306.9 497.2 L307.1 497.3 L307.3 496.96 L307.5 497.64 L307.7 497.8 L307.9 497.88 L308.1 497.58 L308.3 498.05 L308.5 497.75 L308.7 497.38 L308.9 497.9 L309.1 498.42 L309.3 497.67 L309.5 497.61 L309.7 498.5 L309.9 498.32 L310.1 498.99 L310.3 498.77 L310.5 498.88 L310.7 499.06 L310.9 498.76 L311.1 497.54 L311.3 497.98 L311.5 498.84 L311.7 498.47 L311.9 498.72 L312.1 498.77 L312.3 499.88 L312.5 499.03 L312.7 499.59 L312.9 499.31 L313.09 499.19 L313.29 501.03 L313.49 500.57 L313.69 499.14 L313.89 498.73 L314.09 499.03 L314.29 500.1 L314.49 499.8 L314.69 499.35 L314.89 499.84 L315.09 500.92 L315.29 499.48 L315.49 500.26 L315.69 500.01 L315.89 500.96 L316.09 500.7 L316.29 499.58 L316.49 500.49 L316.69 500.08 L316.89 499.57 L317.09 500.43 L317.29 500.5 L317.49 500.72 L317.69 500.23 L317.89 500.53 L318.09 500.55 L318.29 500.05 L318.49 500.65 L318.69 500.35 L318.89 501.47 L319.09 501.24 L319.29 500.83 L319.49 501.65 L319.69 502.03 L319.89 501.41 L320.09 501.69 L320.29 501.31 L320.49 500.75 L320.69 501.86 L320.89 502.25 L321.09 501.92 L321.29 502.13 L321.49 502.16 L321.69 501.38 L321.89 501.74 L322.09 501.89 L322.29 502.28 L322.49 501.73 L322.69 502.33 L322.89 501.48 L323.09 502.41 L323.29 502.52 L323.49 502.19 L323.69 501.53 L323.89 503.56 L324.09 502.5 L324.29 503.41 L324.49 503.7 L324.69 503.15 L324.89 502.56 L325.09 503.9 L325.29 503.33 L325.49 502.26 L325.69 502.61 L325.89 503.49 L326.09 503.04 L326.29 503.41 L326.49 503.8 L326.69 503.98 L326.89 502.99 L327.09 504.03 L327.29 503.83 L327.49 504.07 L327.69 504.64 L327.89 504.05 L328.09 503.05 L328.29 504.58 L328.49 504.16 L328.69 503.58 L328.89 504.01 L329.09 504.32 L329.29 504.06 L329.49 504.27 L329.69 504.52 L329.89 504.97 L330.09 504.83 L330.28 505.55 L330.48 504.65 L330.68 504.9 L330.88 505.16 L331.08 505.71 L331.28 505.23 L331.48 505.95 L331.68 504.77 L331.88 505.74 L332.08 504.75 L332.28 505.69 L332.48 504.96 L332.68 505.08 L332.88 504.98 L333.08 505.63 L333.28 506.5 L333.48 505.38 L333.68 505.96 L333.88 506.48 L334.08 506.31 L334.28 505.66 L334.48 505.53 L334.68 505.73 L334.88 505.6 L335.08 505.47 L335.28 506.23 L335.48 506.12 L335.68 506.3 L335.88 506.37 L336.08 506.33 L336.28 506.22 L336.48 506.62 L336.68 506.35 L336.88 506 L337.08 506.67 L337.28 506.29 L337.48 507.07 L337.68 507.09 L337.88 505.84 L338.08 506.83 L338.28 506.19 L338.48 507.86 L338.68 508.11 L338.88 506.97 L339.08 507.12 L339.28 508.2 L339.48 506.72 L339.68 506.81 L339.88 507.53 L340.08 506.92 L340.28 506.95 L340.48 507.26 L340.68 507.64 L340.88 507.06 L341.08 507.65 L341.28 507.73 L341.48 508.2 L341.68 507.5 L341.88 506.96 L342.08 507.88 L342.28 507.93 L342.48 508.38 L342.68 507.87 L342.88 507.37 L343.08 507.91 L343.28 507.56 L343.48 507.35 L343.68 508.39 L343.88 508.28 L344.08 507.7 L344.28 508.19 L344.48 508.62 L344.68 508.12 L344.88 507.95 L345.08 507.63 L345.28 508.65 L345.48 508.08 L345.68 508.04 L345.88 509.74 L346.08 507.97 L346.28 508.41 L346.48 509.23 L346.68 507.53 L346.88 508.25 L347.08 508.36 L347.28 507.33 L347.48 508.02 L347.67 509.08 L347.87 508.59 L348.07 507.76 L348.27 508.03 L348.47 507.89 L348.67 508.71 L348.87 508.15 L349.07 509.07 L349.27 508.87 L349.47 508.48 L349.67 508.89 L349.87 508.55 L350.07 508.95 L350.27 508.75 L350.47 507.85 L350.67 508.63 L350.87 508.39 L351.07 509.69 L351.27 509.29 L351.47 508.54 L351.67 509.85 L351.87 509.25 L352.07 509.23 L352.27 508.48 L352.47 509.98 L352.67 509.37 L352.87 509.12 L353.07 509.07 L353.27 509.98 L353.47 508.54 L353.67 508.83 L353.87 508.53 L354.07 508.9 L354.27 508.89 L354.47 509.36 L354.67 509.37 L354.87 509.85 L355.07 509.03 L355.27 509.87 L355.47 508.69 L355.67 509.02 L355.87 509.59 L356.07 509.2 L356.27 510.1 L356.47 509.82 L356.67 509.66 L356.87 510.03 L357.07 509.62 L357.27 509.43 L357.47 509.66 L357.67 509.76 L357.87 509.93 L358.07 510.33 L358.27 509.05 L358.47 509.55 L358.67 508.72 L358.87 509.92 L359.07 509.58 L359.27 509 L359.47 508.61 L359.67 508.83 L359.87 508.87 L360.07 510.02 L360.27 509.04 L360.47 508.37 L360.67 510.39 L360.87 509.12 L361.07 508.17 L361.27 509.83 L361.47 509.14 L361.67 508.27 L361.87 508.97 L362.07 509.16 L362.27 508.81 L362.47 509.32 L362.67 508.84 L362.87 509.28 L363.07 508.76 L363.27 509.62 L363.47 509.24 L363.67 509.08 L363.87 510.28 L364.07 508.66 L364.27 509.29 L364.47 509.4 L364.67 509.8 L364.86 509.12 L365.06 509.52 L365.26 508.71 L365.46 508.2 L365.66 509.23 L365.86 509.34 L366.06 509.03 L366.26 509.07 L366.46 508.67 L366.66 509.92 L366.86 508.61 L367.06 508.88 L367.26 509.12 L367.46 509.6 L367.66 508.33 L367.86 508.21 L368.06 508.58 L368.26 508.36 L368.46 508.27 L368.66 508.57 L368.86 508.23 L369.06 509.13 L369.26 508.17 L369.46 509.81 L369.66 507.94 L369.86 507.69 L370.06 507.88 L370.26 508.86 L370.46 508.55 L370.66 508.09 L370.86 508.78 L371.06 508.12 L371.26 508.32 L371.46 507.49 L371.66 508.46 L371.86 508.46 L372.06 507.86 L372.26 507.58 L372.46 508.25 L372.66 508.76 L372.86 508.68 L373.06 508.79 L373.26 507.9 L373.46 508.43 L373.66 507.88 L373.86 508.56 L374.06 507.95 L374.26 507.49 L374.46 508.28 L374.66 507.11 L374.86 507.63 L375.06 508.01 L375.26 507.74 L375.46 507.56 L375.66 507.91 L375.86 507.74 L376.06 507.27 L376.26 508.33 L376.46 506.07 L376.66 506.84 L376.86 506.6 L377.06 506.03 L377.26 506.77 L377.46 507.11 L377.66 507.11 L377.86 506.72 L378.06 506.23 L378.26 507.35 L378.46 505.97 L378.66 507 L378.86 507.31 L379.06 506.05 L379.26 506.94 L379.46 506.27 L379.66 507.26 L379.86 506.17 L380.06 506.73 L380.26 505.83 L380.46 507.18 L380.66 506.69 L380.86 506.78 L381.06 506.12 L381.26 506.69 L381.46 506.31 L381.66 506.09 L381.86 506.25 L382.05 505.9 L382.25 505.78 L382.45 506.69 L382.65 505.3 L382.85 506.32 L383.05 506.11 L383.25 504.79 L383.45 505.95 L383.65 505.62 L383.85 505.13 L384.05 505.77 L384.25 505.45 L384.45 505.48 L384.65 505.37 L384.85 505.81 L385.05 504.63 L385.25 505.09 L385.45 504.74 L385.65 504.97 L385.85 505.24 L386.05 504.29 L386.25 505.19 L386.45 504.26 L386.65 505.07 L386.85 505 L387.05 504.53 L387.25 503.34 L387.45 504 L387.65 504.34 L387.85 504.12 L388.05 503.69 L388.25 504.45 L388.45 505.12 L388.65 504.62 L388.85 504.06 L389.05 504.34 L389.25 504.04 L389.45 503.11 L389.65 503.92 L389.85 504.03 L390.05 503.64 L390.25 502.98 L390.45 502.68 L390.65 503.13 L390.85 503.55 L391.05 503.57 L391.25 503.86 L391.45 503.53 L391.65 502.69 L391.85 502.8 L392.05 502.87 L392.25 503.48 L392.45 502.94 L392.65 503.18 L392.85 502.01 L393.05 502.7 L393.25 502.7 L393.45 502.59 L393.65 502.52 L393.85 502.41 L394.05 502.66 L394.25 502.19 L394.45 502.23 L394.65 501.75 L394.85 501.86 L395.05 501.72 L395.25 502.25 L395.45 501.92 L395.65 502.98 L395.85 502.24 L396.05 501.94 L396.25 502.87 L396.45 501.02 L396.65 501.06 L396.85 501.39 L397.05 500.22 L397.25 502.12 L397.45 501.24 L397.65 501.15 L397.85 501.39 L398.05 500.32 L398.25 500.46 L398.45 500.7 L398.65 501.35 L398.85 500.69 L399.05 500.71 L399.24 500.42 L399.44 501.33 L399.64 501.06 L399.84 499.93 L400.04 500.38 L400.24 500.39 L400.44 500.31 L400.64 501.59 L400.84 499.43 L401.04 500.84 L401.24 500.64 L401.44 499.69 L401.64 499.21 L401.84 499.23 L402.04 500.02 L402.24 500.11 L402.44 499.32 L402.64 499.46 L402.84 500.41 L403.04 498.77 L403.24 500.34 L403.44 499.11 L403.64 499.08 L403.84 498.81 L404.04 499.06 L404.24 498.62 L404.44 498.84 L404.64 499.37 L404.84 499.17 L405.04 498.09 L405.24 499.69 L405.44 498.31 L405.64 498.9 L405.84 499.42 L406.04 498.91 L406.24 498.18 L406.44 499.75 L406.64 497.84 L406.84 497.6 L407.04 498.37 L407.24 498.28 L407.44 498.02 L407.64 497.53 L407.84 498.44 L408.04 498.1 L408.24 497.62 L408.44 498.49 L408.64 497.51 L408.84 497.64 L409.04 497.15 L409.24 498.06 L409.44 497.46 L409.64 497.18 L409.84 497.29 L410.04 497.79 L410.24 496.62 L410.44 497.19 L410.64 497 L410.84 496.99 L411.04 496.62 L411.24 496.85 L411.44 497.19 L411.64 496.36 L411.84 496.76 L412.04 496.62 L412.24 496.51 L412.44 497.15 L412.64 496.46 L412.84 496.29 L413.04 497.11 L413.24 496.48 L413.44 496.31 L413.64 495.87 L413.84 496.32 L414.04 496.07 L414.24 495.74 L414.44 496.62 L414.64 496.33 L414.84 496.05 L415.04 495.48 L415.24 495.12 L415.44 495.69 L415.64 495.74 L415.84 495.88 L416.04 495.53 L416.24 494.69 L416.43 495.55 L416.63 495.69 L416.83 494.59 L417.03 495.39 L417.23 495.38 L417.43 495.66 L417.63 494.66 L417.83 495.25 L418.03 496.02 L418.23 496.12 L418.43 494.84 L418.63 495.22 L418.83 494.67 L419.03 494.61 L419.23 494.05 L419.43 494.05 L419.63 495.27 L419.83 494.83 L420.03 495.03 L420.23 494.16 L420.43 495.29 L420.63 494.19 L420.83 495.33 L421.03 493.91 L421.23 493.81 L421.43 495.17 L421.63 494.3 L421.83 494.56 L422.03 495.06 L422.23 493.72 L422.43 494.54 L422.63 493.59 L422.83 493.84 L423.03 493.12 L423.23 494.22 L423.43 493.54 L423.63 493.82 L423.83 494.07 L424.03 493.31 L424.23 493.78 L424.43 494 L424.63 493.65 L424.83 494.37 L425.03 493.13 L425.23 492.8 L425.43 494.36 L425.63 493.52 L425.83 493.73 L426.03 493.87 L426.23 493.07 L426.43 492.59 L426.63 493.27 L426.83 493.54 L427.03 492.5 L427.23 493.51 L427.43 493.66 L427.63 493.58 L427.83 492.79 L428.03 493.2 L428.23 493.13 L428.43 493.49 L428.63 492.98 L428.83 493.15 L429.03 492.22 L429.23 493.1 L429.43 493.57 L429.63 492.19 L429.83 492.87 L430.03 493 L430.23 492.73 L430.43 492.92 L430.63 494.01 L430.83 492.93 L431.03 492.26 L431.23 492.4 L431.43 493.24 L431.63 493 L431.83 492.57 L432.03 491.75 L432.23 492.6 L432.43 492.64 L432.63 493.04 L432.83 492.93 L433.03 492.98 L433.23 492.71 L433.43 493.18 L433.62 492.88 L433.82 493.25 L434.02 492.09 L434.22 492.32 L434.42 492.72 L434.62 492.75 L434.82 492.23 L435.02 492.51 L435.22 492.84 L435.42 493.94 L435.62 493.52 L435.82 492.25 L436.02 492.66 L436.22 492.95 L436.42 493.47 L436.62 492.23 L436.82 493.14 L437.02 492.48 L437.22 492.59 L437.42 492.81 L437.62 493.12 L437.82 492.38 L438.02 493.23 L438.22 492.84 L438.42 492.6 L438.62 491.96 L438.82 492.75 L439.02 492.47 L439.22 492.24 L439.42 493.77 L439.62 493.01 L439.82 492.73 L440.02 492.92 L440.22 492.14 L440.42 492.82 L440.62 492.27 L440.82 492.11 L441.02 492.72 L441.22 492.41 L441.42 491.87 L441.62 492.12 L441.82 492.58 L442.02 493.47 L442.22 492.96 L442.42 492.68 L442.62 492.48 L442.82 492.57 L443.02 492.68 L443.22 493.19 L443.42 492.39 L443.62 492.23 L443.82 492.75 L444.02 492.7 L444.22 492.33 L444.42 492.95 L444.62 492.57 L444.82 492.3 L445.02 493.16 L445.22 492.86 L445.42 493.24 L445.62 493.41 L445.82 493.83 L446.02 492.74 L446.22 491.67 L446.42 493.11 L446.62 492.18 L446.82 492.45 L447.02 493.19 L447.22 492.56 L447.42 493.25 L447.62 494.11 L447.82 492.65 L448.02 493.24 L448.22 493.23 L448.42 492.79 L448.62 492.68 L448.82 493.3 L449.02 493.09 L449.22 493.09 L449.42 493.7 L449.62 492.92 L449.82 493.62 L450.02 493.16 L450.22 492.92 L450.42 492.93 L450.62 494.43 L450.81 493.85 L451.01 493.67 L451.21 493.94 L451.41 493.66 L451.61 493.66 L451.81 493.61 L452.01 492.53 L452.21 493.59" fill="none" stroke="#332288" stroke-width="1.35" stroke-linejoin="round"/>
<path d="M132.4 503.34 L132.6 503.71 L132.8 503.47 L133 503.46 L133.2 503.07 L133.4 503.93 L133.6 503.46 L133.8 503.85 L134 504.14 L134.2 503.03 L134.4 503.44 L134.6 503.19 L134.8 502.59 L135 502.67 L135.2 503.38 L135.4 503.18 L135.6 503.56 L135.8 503.44 L136 504.04 L136.2 502.98 L136.4 503.28 L136.6 502.84 L136.8 502.47 L137 503.69 L137.2 503.22 L137.4 503.39 L137.6 502.71 L137.8 503.39 L138 502.49 L138.2 502.19 L138.4 502.31 L138.6 502.33 L138.8 503.07 L139 503.21 L139.2 503.85 L139.4 503.12 L139.6 503.94 L139.8 503.64 L140 502.63 L140.2 502.73 L140.4 503.67 L140.6 502.14 L140.8 503.65 L141 503.65 L141.19 502.45 L141.39 502.38 L141.59 503.2 L141.79 502.8 L141.99 503.8 L142.19 502.7 L142.39 503.3 L142.59 502.6 L142.79 503.32 L142.99 503.25 L143.19 502.68 L143.39 502.69 L143.59 503.16 L143.79 503.66 L143.99 502.81 L144.19 502.3 L144.39 502.57 L144.59 503.54 L144.79 502.86 L144.99 502.78 L145.19 502.17 L145.39 502.93 L145.59 502.96 L145.79 502.09 L145.99 503.39 L146.19 503.12 L146.39 503.22 L146.59 502.25 L146.79 503.09 L146.99 502.44 L147.19 503.06 L147.39 502.04 L147.59 502.45 L147.79 502.96 L147.99 502.34 L148.19 502.48 L148.39 502.6 L148.59 503.03 L148.79 501.7 L148.99 502.5 L149.19 502.7 L149.39 502.45 L149.59 502.51 L149.79 503.03 L149.99 501.96 L150.19 503.16 L150.39 502 L150.59 503.25 L150.79 503.01 L150.99 501.81 L151.19 503.01 L151.39 502.3 L151.59 502.17 L151.79 501.65 L151.99 501.44 L152.19 501.83 L152.39 501.95 L152.59 501.65 L152.79 501.7 L152.99 502.87 L153.19 501.83 L153.39 502.48 L153.59 500.87 L153.79 501.49 L153.99 502.34 L154.19 501.15 L154.39 502.4 L154.59 501.7 L154.79 502.49 L154.99 502.06 L155.19 501.77 L155.39 502.46 L155.59 501.56 L155.79 501.32 L155.99 501.04 L156.19 501.26 L156.39 501.54 L156.59 501.32 L156.79 502.04 L156.99 501.89 L157.19 501 L157.39 502.11 L157.59 501.83 L157.79 501.14 L157.99 501.58 L158.19 502.06 L158.38 501.75 L158.58 501.77 L158.78 501.99 L158.98 501.66 L159.18 501.03 L159.38 501.6 L159.58 501.22 L159.78 501.6 L159.98 501.35 L160.18 500.91 L160.38 501.02 L160.58 501.27 L160.78 501.28 L160.98 500.62 L161.18 501.27 L161.38 501.72 L161.58 500.71 L161.78 500.7 L161.98 501.03 L162.18 501.21 L162.38 500.31 L162.58 500.31 L162.78 500.68 L162.98 500.84 L163.18 500.48 L163.38 499.98 L163.58 501.04 L163.78 500.33 L163.98 501.63 L164.18 500.91 L164.38 500.34 L164.58 500.53 L164.78 501.11 L164.98 500.17 L165.18 500.19 L165.38 500.12 L165.58 500.61 L165.78 500.5 L165.98 500.48 L166.18 500.22 L166.38 500.28 L166.58 500.34 L166.78 499.93 L166.98 499.71 L167.18 500.14 L167.38 499.59 L167.58 500.91 L167.78 498.95 L167.98 500.48 L168.18 500.24 L168.38 499.81 L168.58 499.52 L168.78 499.86 L168.98 500.66 L169.18 500.06 L169.38 500.41 L169.58 499.42 L169.78 500 L169.98 500.88 L170.18 500.09 L170.38 499.59 L170.58 500.19 L170.78 499.44 L170.98 500.38 L171.18 499.72 L171.38 499.12 L171.58 499.51 L171.78 499.95 L171.98 499.81 L172.18 498.98 L172.38 499.09 L172.58 499.21 L172.78 499 L172.98 499.35 L173.18 499.27 L173.38 499.3 L173.58 499.42 L173.78 498.68 L173.98 499.59 L174.18 498.12 L174.38 498.73 L174.58 499.17 L174.78 498.37 L174.98 498.22 L175.18 498.82 L175.38 499.48 L175.57 498.85 L175.77 498.86 L175.97 499.11 L176.17 499.47 L176.37 499.19 L176.57 498.67 L176.77 498.8 L176.97 498.26 L177.17 499.22 L177.37 498.33 L177.57 498.96 L177.77 498.36 L177.97 498.44 L178.17 497.85 L178.37 498.22 L178.57 498.57 L178.77 498.33 L178.97 499.05 L179.17 498.34 L179.37 498.09 L179.57 498.17 L179.77 498.5 L179.97 498.1 L180.17 498.08 L180.37 498.01 L180.57 498.57 L180.77 497.75 L180.97 498.09 L181.17 498.59 L181.37 498.1 L181.57 497.47 L181.77 497.27 L181.97 498.07 L182.17 498.27 L182.37 498.04 L182.57 497.55 L182.77 497.21 L182.97 497.72 L183.17 497.88 L183.37 497.08 L183.57 497.51 L183.77 498.04 L183.97 497.76 L184.17 497.21 L184.37 497.75 L184.57 497.56 L184.77 497.86 L184.97 497.27 L185.17 496.83 L185.37 496.92 L185.57 497.62 L185.77 497.92 L185.97 496.73 L186.17 497.04 L186.37 498.03 L186.57 496.66 L186.77 497.49 L186.97 497.53 L187.17 497.23 L187.37 497.82 L187.57 497.68 L187.77 496.51 L187.97 497.25 L188.17 496.88 L188.37 496.47 L188.57 496.89 L188.77 497.07 L188.97 496.74 L189.17 496.23 L189.37 496.72 L189.57 497.1 L189.77 496.02 L189.97 496.22 L190.17 497.39 L190.37 496.66 L190.57 495.73 L190.77 497.43 L190.97 497.39 L191.17 496.41 L191.37 496.94 L191.57 497.39 L191.77 495.98 L191.97 496.7 L192.17 496.43 L192.37 496.04 L192.57 496.45 L192.76 496.95 L192.96 495.5 L193.16 496.06 L193.36 496.47 L193.56 496.63 L193.76 497.07 L193.96 496.11 L194.16 496.99 L194.36 495.56 L194.56 497.24 L194.76 495.95 L194.96 496.81 L195.16 496.77 L195.36 495.96 L195.56 496.21 L195.76 495.91 L195.96 496.73 L196.16 496.28 L196.36 496.35 L196.56 496.06 L196.76 495.76 L196.96 496.2 L197.16 496.55 L197.36 496.06 L197.56 496.85 L197.76 496.35 L197.96 495.49 L198.16 496.28 L198.36 495.63 L198.56 496.18 L198.76 496.41 L198.96 495.91 L199.16 495.73 L199.36 496 L199.56 495.81 L199.76 495.15 L199.96 495.9 L200.16 495.72 L200.36 496.23 L200.56 495.49 L200.76 496.17 L200.96 495.74 L201.16 496.04 L201.36 495.5 L201.56 495.55 L201.76 495.3 L201.96 495.73 L202.16 495.46 L202.36 494.88 L202.56 496.15 L202.76 496.14 L202.96 495.33 L203.16 495.63 L203.36 495.64 L203.56 496.78 L203.76 495.76 L203.96 495.22 L204.16 495.41 L204.36 495.62 L204.56 495.7 L204.76 495.93 L204.96 495.8 L205.16 495.58 L205.36 496.45 L205.56 495 L205.76 496.12 L205.96 495 L206.16 495.21 L206.36 495.92 L206.56 495.69 L206.76 495.39 L206.96 495.04 L207.16 495.94 L207.36 495.3 L207.56 495.2 L207.76 495.61 L207.96 495.35 L208.16 495.7 L208.36 495.68 L208.56 495.95 L208.76 495.9 L208.96 495.16 L209.16 495.26 L209.36 495.23 L209.56 495.73 L209.76 495.31 L209.95 495.07 L210.15 496.04 L210.35 495.95 L210.55 495.97 L210.75 495.42 L210.95 495.4 L211.15 494.62 L211.35 494.99 L211.55 496.68 L211.75 495.35 L211.95 495.65 L212.15 495.04 L212.35 495.98 L212.55 496.16 L212.75 495.92 L212.95 495.22 L213.15 495.66 L213.35 495.18 L213.55 494.62 L213.75 496.01 L213.95 495.69 L214.15 495.36 L214.35 495.11 L214.55 495.83 L214.75 495.47 L214.95 495.94 L215.15 494.81 L215.35 495.11 L215.55 494.63 L215.75 494.82 L215.95 495.28 L216.15 495.12 L216.35 495.17 L216.55 495.49 L216.75 495.62 L216.95 495.67 L217.15 495.39 L217.35 495.42 L217.55 494.98 L217.75 495.49 L217.95 495.43 L218.15 494.79 L218.35 495.79 L218.55 496.05 L218.75 494.48 L218.95 496.11 L219.15 495.87 L219.35 494.85 L219.55 495.71 L219.75 495.89 L219.95 495.6 L220.15 495.75 L220.35 496.1 L220.55 496.53 L220.75 496.07 L220.95 496.25 L221.15 495.94 L221.35 496.09 L221.55 495.36 L221.75 495.43 L221.95 496.04 L222.15 494.96 L222.35 494.87 L222.55 496.59 L222.75 496.26 L222.95 494.94 L223.15 495.72 L223.35 495.86 L223.55 496.02 L223.75 495.9 L223.95 495.42 L224.15 495.63 L224.35 495.96 L224.55 496.17 L224.75 496.14 L224.95 495.45 L225.15 496.16 L225.35 496.02 L225.55 495.93 L225.75 495.92 L225.95 496.59 L226.15 494.79 L226.35 495.73 L226.55 495.34 L226.75 496.61 L226.95 496.81 L227.14 496.04 L227.34 496.27 L227.54 496.55 L227.74 495.39 L227.94 496.72 L228.14 496.9 L228.34 495.35 L228.54 496.05 L228.74 496.88 L228.94 495.77 L229.14 496.65 L229.34 496.51 L229.54 496.42 L229.74 496.35 L229.94 495.5 L230.14 496.74 L230.34 496.79 L230.54 496.95 L230.74 496.48 L230.94 496.95 L231.14 496.45 L231.34 495.84 L231.54 495.6 L231.74 496.64 L231.94 496.48 L232.14 496.85 L232.34 496.75 L232.54 496.29 L232.74 497.56 L232.94 497.06 L233.14 497.14 L233.34 497.14 L233.54 497 L233.74 496.64 L233.94 496.91 L234.14 495.52 L234.34 496.28 L234.54 497.22 L234.74 497.01 L234.94 497.21 L235.14 496.83 L235.34 496.94 L235.54 496.67 L235.74 496.97 L235.94 496.43 L236.14 497.13 L236.34 497.04 L236.54 496.91 L236.74 497.06 L236.94 497.15 L237.14 496.91 L237.34 496.9 L237.54 497.05 L237.74 496.99 L237.94 497.46 L238.14 497.48 L238.34 496.82 L238.54 496.77 L238.74 497.52 L238.94 496.79 L239.14 497.6 L239.34 496.78 L239.54 497.14 L239.74 497.51 L239.94 497.3 L240.14 497.87 L240.34 497.82 L240.54 497.88 L240.74 497.29 L240.94 497.39 L241.14 497.84 L241.34 497.72 L241.54 498.25 L241.74 497.89 L241.94 498.33 L242.14 497.27 L242.34 497.54 L242.54 498.23 L242.74 498.22 L242.94 497.24 L243.14 497.98 L243.34 498.59 L243.54 498.38 L243.74 498.37 L243.94 498.22 L244.14 498.75 L244.33 497.94 L244.53 498.52 L244.73 497.41 L244.93 497.9 L245.13 499.01 L245.33 498.76 L245.53 498.38 L245.73 499.18 L245.93 499.01 L246.13 497.75 L246.33 498.83 L246.53 498.83 L246.73 498.44 L246.93 498.4 L247.13 498.56 L247.33 498.24 L247.53 498.98 L247.73 498.14 L247.93 498.16 L248.13 498.91 L248.33 498.82 L248.53 498.88 L248.73 499.04 L248.93 499.42 L249.13 498.84 L249.33 499.36 L249.53 499.32 L249.73 499.44 L249.93 498.94 L250.13 499.55 L250.33 498.68 L250.53 499.96 L250.73 499.69 L250.93 499.29 L251.13 499.38 L251.33 499.79 L251.53 498.23 L251.73 499.52 L251.93 500.05 L252.13 499.37 L252.33 498.63 L252.53 498.83 L252.73 499.55 L252.93 499.58 L253.13 498.65 L253.33 499.51 L253.53 499.47 L253.73 500.25 L253.93 499.94 L254.13 499.5 L254.33 500.72 L254.53 499.65 L254.73 499.88 L254.93 499.92 L255.13 499.79 L255.33 499.69 L255.53 499.32 L255.73 500.6 L255.93 499.53 L256.13 500.22 L256.33 500.1 L256.53 499.91 L256.73 500.11 L256.93 499.7 L257.13 500.47 L257.33 499.92 L257.53 500.34 L257.73 501.14 L257.93 500.89 L258.13 499.72 L258.33 500.43 L258.53 500.02 L258.73 500.34 L258.93 500.62 L259.13 499.18 L259.33 499.83 L259.53 500.98 L259.73 500.46 L259.93 500.44 L260.13 501.56 L260.33 501.21 L260.53 500.06 L260.73 500.03 L260.93 500.03 L261.13 501.14 L261.33 500.55 L261.52 500.64 L261.72 500.82 L261.92 501.05 L262.12 500.75 L262.32 501.75 L262.52 502.27 L262.72 501.17 L262.92 500.27 L263.12 501.59 L263.32 501.39 L263.52 501.01 L263.72 501.65 L263.92 501.03 L264.12 501.42 L264.32 501.44 L264.52 501.75 L264.72 501.16 L264.92 500.98 L265.12 500.7 L265.32 501.56 L265.52 501.92 L265.72 501.39 L265.92 501.05 L266.12 501.98 L266.32 501.29 L266.52 500.44 L266.72 501.07 L266.92 502.21 L267.12 501.76 L267.32 502.28 L267.52 502.2 L267.72 500.53 L267.92 501.75 L268.12 501.98 L268.32 501.56 L268.52 502.22 L268.72 500.91 L268.92 501.46 L269.12 501.77 L269.32 501.39 L269.52 501.43 L269.72 501.6 L269.92 502.76 L270.12 502.16 L270.32 501.07 L270.52 502.28 L270.72 502.26 L270.92 502.46 L271.12 501.77 L271.32 502.23 L271.52 502.36 L271.72 501.6 L271.92 502.57 L272.12 501.75 L272.32 501.96 L272.52 502 L272.72 501.77 L272.92 502.22 L273.12 502.25 L273.32 501.48 L273.52 502.35 L273.72 502.06 L273.92 502.45 L274.12 502.7 L274.32 502.13 L274.52 502.92 L274.72 502.02 L274.92 501.92 L275.12 502.11 L275.32 502.53 L275.52 503.08 L275.72 502.76 L275.92 501.29 L276.12 503.02 L276.32 502.2 L276.52 502.47 L276.72 502.48 L276.92 503.12 L277.12 503.28 L277.32 502.74 L277.52 502.6 L277.72 502.73 L277.92 502.39 L278.12 503.05 L278.32 503.34 L278.52 502.6 L278.71 502.81 L278.91 503.81 L279.11 502.29 L279.31 502.54 L279.51 502.31 L279.71 502.89 L279.91 502.7 L280.11 503.41 L280.31 503.55 L280.51 502.29 L280.71 503.33 L280.91 503.94 L281.11 503.38 L281.31 503.11 L281.51 503.21 L281.71 503.53 L281.91 502.81 L282.11 503.06 L282.31 502.43 L282.51 503.25 L282.71 502.35 L282.91 502.95 L283.11 503.11 L283.31 503.27 L283.51 502.86 L283.71 503.17 L283.91 503.88 L284.11 503.2 L284.31 503.6 L284.51 503.16 L284.71 503.84 L284.91 503.12 L285.11 502.31 L285.31 503.5 L285.51 502.41 L285.71 503.3 L285.91 503.67 L286.11 503.2 L286.31 502.39 L286.51 503.83 L286.71 503.53 L286.91 502.52 L287.11 503.38 L287.31 503.17 L287.51 504.27 L287.71 503.14 L287.91 504.14 L288.11 503.5 L288.31 502.88 L288.51 504.02 L288.71 503.64 L288.91 502.38 L289.11 502.87 L289.31 503.07 L289.51 502.96 L289.71 503.13 L289.91 502.72 L290.11 503.91 L290.31 502.77 L290.51 503.39 L290.71 503.64 L290.91 503.4 L291.11 504.37 L291.31 503.28 L291.51 503.85 L291.71 502.61 L291.91 503.65 L292.11 502.6 L292.31 502.95 L292.51 502.27 L292.71 503.23 L292.91 503.25 L293.11 504.08 L293.31 503.72 L293.51 503.48 L293.71 503.82 L293.91 503.44 L294.11 503.67 L294.31 503.54 L294.51 503.02 L294.71 503.34 L294.91 503.22 L295.11 503.22 L295.31 502.79 L295.51 503.67 L295.71 503.6 L295.9 503.65 L296.1 503.59 L296.3 503.3 L296.5 503.39 L296.7 503.18 L296.9 504.28 L297.1 503.88 L297.3 503.61 L297.5 503.04 L297.7 503.31 L297.9 502.83 L298.1 502.96 L298.3 503.36 L298.5 503.82 L298.7 503.74 L298.9 503.2 L299.1 504.14 L299.3 502.99 L299.5 502.61 L299.7 502.93 L299.9 502.46 L300.1 502.71 L300.3 503.24 L300.5 502.35 L300.7 503.44 L300.9 502.56 L301.1 504.28 L301.3 503.19 L301.5 503.66 L301.7 503.01 L301.9 503.44 L302.1 503.09 L302.3 502.68 L302.5 503.21 L302.7 502.87 L302.9 502.78 L303.1 503.21 L303.3 503.98 L303.5 503.96 L303.7 503.61 L303.9 502.82 L304.1 502.01 L304.3 502.91 L304.5 503.24 L304.7 502.51 L304.9 502.63 L305.1 503.35 L305.3 502.61 L305.5 502.91 L305.7 503.16 L305.9 502.83 L306.1 502.39 L306.3 502.53 L306.5 502.35 L306.7 503.05 L306.9 502.95 L307.1 502.24 L307.3 502.14 L307.5 501.91 L307.7 502.2 L307.9 502.9 L308.1 502.85 L308.3 501.73 L308.5 502.55 L308.7 501.82 L308.9 502.45 L309.1 503.23 L309.3 502.67 L309.5 502.28 L309.7 501.78 L309.9 502.49 L310.1 501.83 L310.3 501.82 L310.5 502.54 L310.7 502.2 L310.9 502.07 L311.1 503.07 L311.3 501.85 L311.5 502.16 L311.7 502.72 L311.9 502.62 L312.1 502.46 L312.3 502.61 L312.5 502.17 L312.7 501.75 L312.9 502.3 L313.09 502.39 L313.29 501.52 L313.49 502.04 L313.69 501.84 L313.89 502.84 L314.09 501.72 L314.29 502.24 L314.49 501.68 L314.69 502.09 L314.89 501.31 L315.09 501.96 L315.29 501.3 L315.49 501.97 L315.69 501.82 L315.89 502.16 L316.09 501 L316.29 501.55 L316.49 500.97 L316.69 501.22 L316.89 501.42 L317.09 502.23 L317.29 501.3 L317.49 501.35 L317.69 501.55 L317.89 502.38 L318.09 500.92 L318.29 502.39 L318.49 501.47 L318.69 502.75 L318.89 501.67 L319.09 500.56 L319.29 500.91 L319.49 501.33 L319.69 500.97 L319.89 501.74 L320.09 501.32 L320.29 500.14 L320.49 501.21 L320.69 501.21 L320.89 501.47 L321.09 501.05 L321.29 500.58 L321.49 501.18 L321.69 500.72 L321.89 500.89 L322.09 500.61 L322.29 500.99 L322.49 500.69 L322.69 501.28 L322.89 499.79 L323.09 500.48 L323.29 501.33 L323.49 499.71 L323.69 501.01 L323.89 500.58 L324.09 500.59 L324.29 500.92 L324.49 500.12 L324.69 500.47 L324.89 500.55 L325.09 500.77 L325.29 501.26 L325.49 500.52 L325.69 499.65 L325.89 500.26 L326.09 500.52 L326.29 500.62 L326.49 500.74 L326.69 500.24 L326.89 500.5 L327.09 500.25 L327.29 500.24 L327.49 499.68 L327.69 500.02 L327.89 500.37 L328.09 499.66 L328.29 499.66 L328.49 498.55 L328.69 500.43 L328.89 499.66 L329.09 500.5 L329.29 499.14 L329.49 499.31 L329.69 498.9 L329.89 499.45 L330.09 498.88 L330.28 500.28 L330.48 499.42 L330.68 499.58 L330.88 498.78 L331.08 499.45 L331.28 498.77 L331.48 500.07 L331.68 500.33 L331.88 498.65 L332.08 499.5 L332.28 499.02 L332.48 498.63 L332.68 498.68 L332.88 498.82 L333.08 499.07 L333.28 499.37 L333.48 498.41 L333.68 498.98 L333.88 499.57 L334.08 498.57 L334.28 498.64 L334.48 500.06 L334.68 499.91 L334.88 499.11 L335.08 498.31 L335.28 499.36 L335.48 499.61 L335.68 498.14 L335.88 499.72 L336.08 498.35 L336.28 499.18 L336.48 498.41 L336.68 498.52 L336.88 498.65 L337.08 498.21 L337.28 498.86 L337.48 498.67 L337.68 499.09 L337.88 498.63 L338.08 499.07 L338.28 498.24 L338.48 498.14 L338.68 498.6 L338.88 498.6 L339.08 498.21 L339.28 498.39 L339.48 499.16 L339.68 498.64 L339.88 498.28 L340.08 498.47 L340.28 497.62 L340.48 497.71 L340.68 498.3 L340.88 497.98 L341.08 497.59 L341.28 497.56 L341.48 497.64 L341.68 497.92 L341.88 497.63 L342.08 498.05 L342.28 497.83 L342.48 497.95 L342.68 497.79 L342.88 497.67 L343.08 497.85 L343.28 498.34 L343.48 497.63 L343.68 498.53 L343.88 497.7 L344.08 497.85 L344.28 497.73 L344.48 497.55 L344.68 497.43 L344.88 497.95 L345.08 498.44 L345.28 497.25 L345.48 496.82 L345.68 497.45 L345.88 498.1 L346.08 496.76 L346.28 497.16 L346.48 497.58 L346.68 498.36 L346.88 496.94 L347.08 496.22 L347.28 497.31 L347.48 497.46 L347.67 497.13 L347.87 496.89 L348.07 497.3 L348.27 497.45 L348.47 497.33 L348.67 496.78 L348.87 497.37 L349.07 497.62 L349.27 496.34 L349.47 497.18 L349.67 498.53 L349.87 496.71 L350.07 496.69 L350.27 497.08 L350.47 497.3 L350.67 496.39 L350.87 497.08 L351.07 496.24 L351.27 496.57 L351.47 496.69 L351.67 495.85 L351.87 496.32 L352.07 497.49 L352.27 496.15 L352.47 496.21 L352.67 496.16 L352.87 495.34 L353.07 496.13 L353.27 495.96 L353.47 496.54 L353.67 496.76 L353.87 496.64 L354.07 496.53 L354.27 496.04 L354.47 496.25 L354.67 495.92 L354.87 496.1 L355.07 496.77 L355.27 497.24 L355.47 496.32 L355.67 495.74 L355.87 496.39 L356.07 496.59 L356.27 496.37 L356.47 495.78 L356.67 495.95 L356.87 496.53 L357.07 496.1 L357.27 496.37 L357.47 496.23 L357.67 495.73 L357.87 496.03 L358.07 495.78 L358.27 496.7 L358.47 495.5 L358.67 496.77 L358.87 497.2 L359.07 496.12 L359.27 495.59 L359.47 495.91 L359.67 495.39 L359.87 495.32 L360.07 495.31 L360.27 496 L360.47 495.8 L360.67 496.34 L360.87 495.86 L361.07 495.69 L361.27 495.45 L361.47 496.59 L361.67 497.23 L361.87 496.05 L362.07 495.98 L362.27 495.35 L362.47 495.65 L362.67 495.7 L362.87 495.23 L363.07 496.06 L363.27 495.58 L363.47 495.14 L363.67 494.76 L363.87 494.96 L364.07 495.89 L364.27 495.11 L364.47 495.89 L364.67 495.65 L364.86 496.11 L365.06 496.07 L365.26 496.36 L365.46 495.81 L365.66 496.37 L365.86 495.89 L366.06 495.84 L366.26 495.24 L366.46 496.47 L366.66 495.52 L366.86 495.26 L367.06 495.19 L367.26 495.51 L367.46 495.39 L367.66 495.23 L367.86 495.3 L368.06 495.15 L368.26 494.93 L368.46 494.47 L368.66 495.42 L368.86 495.45 L369.06 495.08 L369.26 495.69 L369.46 495.48 L369.66 495.87 L369.86 495.34 L370.06 495.45 L370.26 495.33 L370.46 495.53 L370.66 495.79 L370.86 495.33 L371.06 495.73 L371.26 495.8 L371.46 495.34 L371.66 495.75 L371.86 496.69 L372.06 495.76 L372.26 496.56 L372.46 495.67 L372.66 494.55 L372.86 495.16 L373.06 496.66 L373.26 494.46 L373.46 495.56 L373.66 495.79 L373.86 495.42 L374.06 495.73 L374.26 496.2 L374.46 495.59 L374.66 495.39 L374.86 495.33 L375.06 495.31 L375.26 495.72 L375.46 495.45 L375.66 496 L375.86 495.17 L376.06 494.64 L376.26 495.74 L376.46 495.24 L376.66 494.4 L376.86 496.33 L377.06 496.12 L377.26 494.44 L377.46 494.9 L377.66 495.02 L377.86 495.84 L378.06 495.72 L378.26 495.88 L378.46 495.32 L378.66 495.79 L378.86 496.01 L379.06 496.2 L379.26 495.3 L379.46 495.71 L379.66 495.46 L379.86 496.54 L380.06 495.59 L380.26 495.62 L380.46 495.29 L380.66 495.43 L380.86 495.81 L381.06 495.3 L381.26 495.79 L381.46 495.52 L381.66 495 L381.86 495.33 L382.05 496.06 L382.25 495.78 L382.45 495.52 L382.65 495.06 L382.85 495.75 L383.05 495.82 L383.25 496.21 L383.45 496.59 L383.65 495.71 L383.85 496.08 L384.05 496.52 L384.25 495.58 L384.45 496.06 L384.65 495.27 L384.85 496.03 L385.05 496.23 L385.25 495.32 L385.45 496.13 L385.65 495.54 L385.85 495.63 L386.05 496.76 L386.25 496.71 L386.45 496.53 L386.65 495.76 L386.85 496.42 L387.05 495.13 L387.25 495.62 L387.45 495.67 L387.65 495.97 L387.85 495.71 L388.05 495.85 L388.25 496.18 L388.45 496.34 L388.65 496.71 L388.85 496.25 L389.05 496.76 L389.25 497.16 L389.45 496.39 L389.65 496.48 L389.85 496.67 L390.05 495.97 L390.25 495.92 L390.45 495.64 L390.65 496.71 L390.85 496.12 L391.05 496.35 L391.25 495.95 L391.45 496.44 L391.65 496.75 L391.85 496.95 L392.05 496.58 L392.25 496.18 L392.45 496.45 L392.65 497.07 L392.85 497.15 L393.05 495.98 L393.25 496.74 L393.45 496.07 L393.65 497.08 L393.85 497.18 L394.05 497.71 L394.25 496.33 L394.45 497.44 L394.65 497.06 L394.85 496.58 L395.05 496.86 L395.25 497.03 L395.45 497.66 L395.65 496.45 L395.85 497.18 L396.05 496.54 L396.25 497.46 L396.45 496.57 L396.65 497.05 L396.85 497.3 L397.05 497.94 L397.25 496.72 L397.45 498.31 L397.65 496.6 L397.85 497.36 L398.05 496.77 L398.25 496.91 L398.45 496.55 L398.65 498.24 L398.85 497.31 L399.05 497.58 L399.24 497.81 L399.44 497.4 L399.64 497.67 L399.84 496.84 L400.04 497.95 L400.24 497.59 L400.44 497.04 L400.64 497.97 L400.84 497.28 L401.04 497.25 L401.24 497.91 L401.44 497.9 L401.64 497.88 L401.84 497.35 L402.04 497.68 L402.24 498.84 L402.44 497.41 L402.64 498.82 L402.84 498.39 L403.04 498.96 L403.24 498.52 L403.44 498.11 L403.64 498 L403.84 498.12 L404.04 498.83 L404.24 498.08 L404.44 497.91 L404.64 499.21 L404.84 498.1 L405.04 498.54 L405.24 498.76 L405.44 498.75 L405.64 498.58 L405.84 498.65 L406.04 498.28 L406.24 498.52 L406.44 498.61 L406.64 498.74 L406.84 498.61 L407.04 498.12 L407.24 498.03 L407.44 498.31 L407.64 499.11 L407.84 498.03 L408.04 498.93 L408.24 499.4 L408.44 498.97 L408.64 498.65 L408.84 498.87 L409.04 498.92 L409.24 499.39 L409.44 498.63 L409.64 499.08 L409.84 499.1 L410.04 498.76 L410.24 498.58 L410.44 499.37 L410.64 499.17 L410.84 499.02 L411.04 499.29 L411.24 499.3 L411.44 499.11 L411.64 499.52 L411.84 499.28 L412.04 500.29 L412.24 499.56 L412.44 498.85 L412.64 499.67 L412.84 499.97 L413.04 500.35 L413.24 499.07 L413.44 499.62 L413.64 499.04 L413.84 499.06 L414.04 499.66 L414.24 499.27 L414.44 499.84 L414.64 499.82 L414.84 500.22 L415.04 500.17 L415.24 499.56 L415.44 499.61 L415.64 500.22 L415.84 499.41 L416.04 499.84 L416.24 500.57 L416.43 500.37 L416.63 500.47 L416.83 500.05 L417.03 500.23 L417.23 500.52 L417.43 500.23 L417.63 499.96 L417.83 499.98 L418.03 500.19 L418.23 500.54 L418.43 500.78 L418.63 500.72 L418.83 500.34 L419.03 500.49 L419.23 499.79 L419.43 500.28 L419.63 500.64 L419.83 501.01 L420.03 501.69 L420.23 501.57 L420.43 500.94 L420.63 500.36 L420.83 499.99 L421.03 500.51 L421.23 500.58 L421.43 500.78 L421.63 500.82 L421.83 500.85 L422.03 501.32 L422.23 501.41 L422.43 500.39 L422.63 501 L422.83 500.11 L423.03 500.54 L423.23 499.92 L423.43 500.72 L423.63 501.52 L423.83 500.34 L424.03 501.53 L424.23 500.84 L424.43 501.35 L424.63 501.6 L424.83 501.09 L425.03 501.87 L425.23 501.15 L425.43 501.12 L425.63 501.72 L425.83 501.77 L426.03 501.58 L426.23 501.62 L426.43 501.46 L426.63 502.15 L426.83 501.73 L427.03 502.36 L427.23 502.12 L427.43 502 L427.63 501.71 L427.83 501.25 L428.03 501.86 L428.23 501.55 L428.43 501.25 L428.63 501.9 L428.83 502.16 L429.03 501.82 L429.23 501.67 L429.43 502.31 L429.63 502.07 L429.83 501.86 L430.03 502.22 L430.23 502.18 L430.43 502.18 L430.63 501.96 L430.83 501.84 L431.03 502.53 L431.23 502.69 L431.43 502.91 L431.63 501.81 L431.83 501.88 L432.03 503.06 L432.23 502.52 L432.43 502.63 L432.63 502.96 L432.83 501.87 L433.03 502.39 L433.23 501.99 L433.43 501.27 L433.62 502.38 L433.82 502.87 L434.02 503.12 L434.22 501.68 L434.42 502.18 L434.62 502.78 L434.82 502.7 L435.02 502.63 L435.22 501.84 L435.42 501.89 L435.62 502.95 L435.82 501.99 L436.02 502.43 L436.22 502.79 L436.42 502.35 L436.62 502.09 L436.82 502.46 L437.02 502.74 L437.22 502.29 L437.42 503.7 L437.62 502.74 L437.82 502.85 L438.02 502.18 L438.22 503.25 L438.42 503.42 L438.62 502.63 L438.82 503.11 L439.02 502.73 L439.22 503.01 L439.42 503.61 L439.62 502.71 L439.82 502.57 L440.02 503.18 L440.22 503.25 L440.42 503.6 L440.62 502.24 L440.82 502.76 L441.02 502.87 L441.22 503.23 L441.42 503.23 L441.62 502.59 L441.82 501.98 L442.02 503.5 L442.22 502.88 L442.42 502.66 L442.62 502.99 L442.82 503 L443.02 502.88 L443.22 502.08 L443.42 502.89 L443.62 503.32 L443.82 503.63 L444.02 503.63 L444.22 504.02 L444.42 502.9 L444.62 502.89 L444.82 503.01 L445.02 502.46 L445.22 502.56 L445.42 503.08 L445.62 503.72 L445.82 502.49 L446.02 502.78 L446.22 503.09 L446.42 504.18 L446.62 502.64 L446.82 503.53 L447.02 504.12 L447.22 503.25 L447.42 502.74 L447.62 502.64 L447.82 503.49 L448.02 502.86 L448.22 503.29 L448.42 503.37 L448.62 503.77 L448.82 502.62 L449.02 504.15 L449.22 502.77 L449.42 503.42 L449.62 503.68 L449.82 503.79 L450.02 503.34 L450.22 503.74 L450.42 503.98 L450.62 503.55 L450.81 503.37 L451.01 503.18 L451.21 503.59 L451.41 503.95 L451.61 504.01 L451.81 503.52 L452.01 503.34 L452.21 503.57" fill="none" stroke="#117733" stroke-width="1.35" stroke-linejoin="round"/>
<path d="M132.4 385.23 L132.6 384.3 L132.8 386.06 L133 384.52 L133.2 385.54 L133.4 385.56 L133.6 383.84 L133.8 385.27 L134 385.46 L134.2 384.87 L134.4 384.59 L134.6 385.56 L134.8 385.1 L135 386.4 L135.2 385.97 L135.4 386.08 L135.6 386.85 L135.8 387.05 L136 387.21 L136.2 386.17 L136.4 386.19 L136.6 386.38 L136.8 386.15 L137 387.36 L137.2 386.44 L137.4 386.28 L137.6 385.96 L137.8 387.34 L138 387.08 L138.2 388.48 L138.4 387.38 L138.6 388.84 L138.8 388.34 L139 386.45 L139.2 389.2 L139.4 386.94 L139.6 387.45 L139.8 388.09 L140 387.62 L140.2 387.71 L140.4 387.44 L140.6 388.6 L140.8 389.04 L141 389.21 L141.19 389.67 L141.39 389.09 L141.59 389.84 L141.79 388.55 L141.99 391.04 L142.19 390.6 L142.39 390.67 L142.59 391.75 L142.79 388.81 L142.99 392.38 L143.19 390.91 L143.39 391.3 L143.59 389.8 L143.79 392.85 L143.99 390.68 L144.19 392.29 L144.39 392.06 L144.59 392.68 L144.79 391.89 L144.99 393.5 L145.19 392.91 L145.39 392.81 L145.59 391.9 L145.79 395.42 L145.99 392.64 L146.19 393.33 L146.39 394.68 L146.59 394.33 L146.79 395.18 L146.99 393.83 L147.19 395.19 L147.39 395.79 L147.59 396.07 L147.79 396.33 L147.99 396.59 L148.19 397.4 L148.39 395.47 L148.59 398.76 L148.79 400.32 L148.99 398 L149.19 398.32 L149.39 398.23 L149.59 398.97 L149.79 399.24 L149.99 399.19 L150.19 399.04 L150.39 400.41 L150.59 400.68 L150.79 399.29 L150.99 400.67 L151.19 402.12 L151.39 400.02 L151.59 401.5 L151.79 402.84 L151.99 403.62 L152.19 402.89 L152.39 404.06 L152.59 404.58 L152.79 405.11 L152.99 404.9 L153.19 404.1 L153.39 405.58 L153.59 406.68 L153.79 405.53 L153.99 406.35 L154.19 406.17 L154.39 406.3 L154.59 407.67 L154.79 408.04 L154.99 408.36 L155.19 409.53 L155.39 408.65 L155.59 408.56 L155.79 409.81 L155.99 410.51 L156.19 410.93 L156.39 411.71 L156.59 412.14 L156.79 412.28 L156.99 413.01 L157.19 413.15 L157.39 414.36 L157.59 413.47 L157.79 414.11 L157.99 415.37 L158.19 416.59 L158.38 415.47 L158.58 415.16 L158.78 416.85 L158.98 417.14 L159.18 417.65 L159.38 417.28 L159.58 418.79 L159.78 417.99 L159.98 419.31 L160.18 418.96 L160.38 420.02 L160.58 420.67 L160.78 421.96 L160.98 421.92 L161.18 422.12 L161.38 422.01 L161.58 422.76 L161.78 423.86 L161.98 423.64 L162.18 423.76 L162.38 424.99 L162.58 425.67 L162.78 426.14 L162.98 425.88 L163.18 426.56 L163.38 427.99 L163.58 427.68 L163.78 428.73 L163.98 429.41 L164.18 428.69 L164.38 429.48 L164.58 430.95 L164.78 430.98 L164.98 431.25 L165.18 432.47 L165.38 432.69 L165.58 432.75 L165.78 434.76 L165.98 434.03 L166.18 434.32 L166.38 435 L166.58 436.64 L166.78 436.2 L166.98 437.45 L167.18 437.16 L167.38 437.69 L167.58 438.47 L167.78 439.6 L167.98 440.05 L168.18 439.78 L168.38 441.35 L168.58 441.11 L168.78 441.67 L168.98 442.68 L169.18 441.75 L169.38 443.63 L169.58 443.04 L169.78 445.93 L169.98 446.63 L170.18 445.43 L170.38 446.2 L170.58 447.3 L170.78 447.74 L170.98 449.32 L171.18 449.22 L171.38 450.02 L171.58 450.17 L171.78 450.17 L171.98 451.21 L172.18 451.63 L172.38 452.79 L172.58 453.24 L172.78 453.55 L172.98 454.36 L173.18 454.16 L173.38 455.86 L173.58 455.05 L173.78 457.11 L173.98 456.69 L174.18 458.21 L174.38 457.61 L174.58 458.97 L174.78 459.45 L174.98 459.89 L175.18 461.18 L175.38 461.98 L175.57 463.07 L175.77 462.12 L175.97 463.65 L176.17 464.21 L176.37 464.56 L176.57 464.23 L176.77 466.59 L176.97 466.28 L177.17 467.2 L177.37 467.39 L177.57 469.08 L177.77 469.06 L177.97 469.12 L178.17 469.42 L178.37 470.03 L178.57 471.74 L178.77 471.96 L178.97 472.65 L179.17 473.83 L179.37 474.48 L179.57 474.15 L179.77 474.99 L179.97 475.78 L180.17 475.83 L180.37 477.39 L180.57 477.38 L180.77 478.22 L180.97 478.87 L181.17 479.27 L181.37 480.02 L181.57 480.61 L181.77 481.23 L181.97 481.19 L182.17 482.71 L182.37 482.81 L182.57 483.59 L182.77 484.59 L182.97 484.77 L183.17 486.03 L183.37 485.88 L183.57 487.24 L183.77 487.74 L183.97 488.06 L184.17 488.49 L184.37 489.08 L184.57 489.7 L184.77 490.72 L184.97 491.6 L185.17 491.68 L185.37 492.38 L185.57 493.43 L185.77 493.37 L185.97 494.25 L186.17 495.26 L186.37 495.39 L186.57 496.59 L186.77 497.04 L186.97 497.22 L187.17 498.47 L187.37 498.54 L187.57 499.6 L187.77 499.51 L187.97 500.58 L188.17 500.89 L188.37 502.01 L188.57 502.24 L188.77 502.42 L188.97 503.17 L189.17 504.46 L189.37 504.2 L189.57 504.79 L189.77 505.75 L189.97 505.8 L190.17 507.11 L190.37 507.39 L190.57 507.61 L190.77 508.13 L190.97 508.71 L191.17 509.95 L191.37 510.7 L191.57 510.65 L191.77 511.71 L191.97 511.91 L192.17 512.77 L192.37 512.68 L192.57 513.3 L192.76 513.91 L192.96 514.59 L193.16 515.12 L193.36 515.75 L193.56 516.1 L193.76 516.66 L193.96 517.14 L194.16 517.88 L194.36 517.82 L194.56 518.74 L194.76 518.98 L194.96 519.5 L195.16 520.54 L195.36 521.23 L195.56 521.03 L195.76 521.91 L195.96 522.29 L196.16 522.85 L196.36 523.24 L196.56 524.02 L196.76 524.25 L196.96 524.8 L197.16 525.16 L197.36 526.12 L197.56 525.9 L197.76 526.46 L197.96 527.34 L198.16 527.57 L198.36 527.85 L198.56 528.16 L198.76 528.72 L198.96 528.87 L199.16 529.56 L199.36 530.18 L199.56 530.53 L199.76 530.66 L199.96 531.32 L200.16 531.44 L200.36 531.79 L200.56 532.26 L200.76 532.56 L200.96 533.16 L201.16 533.5 L201.36 533.97 L201.56 534.33 L201.76 534.85 L201.96 535.02 L202.16 535.45 L202.36 535.85 L202.56 535.9 L202.76 536.18 L202.96 536.63 L203.16 536.66 L203.36 537.04 L203.56 537.32 L203.76 537.89 L203.96 538.33 L204.16 538.27 L204.36 538.59 L204.56 538.8 L204.76 539.11 L204.96 539.24 L205.16 539.73 L205.36 539.83 L205.56 540.31 L205.76 540.76 L205.96 540.7 L206.16 540.63 L206.36 541.32 L206.56 541.12 L206.76 541.57 L206.96 541.73 L207.16 541.85 L207.36 542 L207.56 542.35 L207.76 542.35 L207.96 542.47 L208.16 542.56 L208.36 542.94 L208.56 542.75 L208.76 542.83 L208.96 542.88 L209.16 543.53 L209.36 543.43 L209.56 543.82 L209.76 543.6 L209.95 543.67 L210.15 543.99 L210.35 544.12 L210.55 543.94 L210.75 543.94 L210.95 544.19 L211.15 544.17 L211.35 544.52 L211.55 544.3 L211.75 544.21 L211.95 544.22 L212.15 544.04 L212.35 544.42 L212.55 544.57 L212.75 544.18 L212.95 544.31 L213.15 544.16 L213.35 544.07 L213.55 544.05 L213.75 543.88 L213.95 543.84 L214.15 544.2 L214.35 543.91 L214.55 543.55 L214.75 543.8 L214.95 543.52 L215.15 543.56 L215.35 543.51 L215.55 543.12 L215.75 543.08 L215.95 543.13 L216.15 542.84 L216.35 543.02 L216.55 542.79 L216.75 542.4 L216.95 542.37 L217.15 542.36 L217.35 541.97 L217.55 541.8 L217.75 541.48 L217.95 541.33 L218.15 541.31 L218.35 541.14 L218.55 540.87 L218.75 540.67 L218.95 540.18 L219.15 539.93 L219.35 539.72 L219.55 539.63 L219.75 539.47 L219.95 539.03 L220.15 538.97 L220.35 538.6 L220.55 538.64 L220.75 538.15 L220.95 537.55 L221.15 537.67 L221.35 537.44 L221.55 536.92 L221.75 536.29 L221.95 536.01 L222.15 535.99 L222.35 535.68 L222.55 535.28 L222.75 535.08 L222.95 534.57 L223.15 534.27 L223.35 534.13 L223.55 533.6 L223.75 533.17 L223.95 532.91 L224.15 532.58 L224.35 531.82 L224.55 531.23 L224.75 531.26 L224.95 530.88 L225.15 530.3 L225.35 530.03 L225.55 529.72 L225.75 528.87 L225.95 528.93 L226.15 528.44 L226.35 528 L226.55 527.6 L226.75 527.03 L226.95 526.41 L227.14 525.77 L227.34 525.48 L227.54 525.15 L227.74 524.97 L227.94 524.24 L228.14 523.96 L228.34 523.3 L228.54 522.57 L228.74 522.26 L228.94 521.87 L229.14 521.5 L229.34 520.83 L229.54 520.3 L229.74 520.05 L229.94 519.44 L230.14 518.59 L230.34 518.7 L230.54 517.88 L230.74 517.54 L230.94 516.34 L231.14 516.04 L231.34 515.54 L231.54 515.03 L231.74 514.52 L231.94 513.98 L232.14 513.94 L232.34 512.9 L232.54 512.26 L232.74 512.26 L232.94 511.09 L233.14 510.57 L233.34 510.63 L233.54 509.77 L233.74 509.16 L233.94 508.66 L234.14 507.82 L234.34 507.74 L234.54 506.86 L234.74 506.15 L234.94 505.42 L235.14 505.04 L235.34 504.55 L235.54 503.68 L235.74 503.92 L235.94 502.43 L236.14 502.23 L236.34 501.93 L236.54 501.08 L236.74 500.94 L236.94 500.42 L237.14 499.26 L237.34 498.81 L237.54 497.71 L237.74 497.65 L237.94 497.18 L238.14 496.47 L238.34 494.95 L238.54 494.92 L238.74 494.53 L238.94 494.06 L239.14 493.49 L239.34 492.55 L239.54 491.72 L239.74 490.84 L239.94 490.23 L240.14 489.93 L240.34 489.65 L240.54 489.11 L240.74 489.04 L240.94 487.94 L241.14 486.78 L241.34 486.45 L241.54 485.56 L241.74 485.6 L241.94 484.1 L242.14 483.72 L242.34 483.19 L242.54 482.43 L242.74 482.86 L242.94 481.56 L243.14 481.08 L243.34 479.35 L243.54 479.54 L243.74 479.05 L243.94 477.87 L244.14 478.03 L244.33 476.37 L244.53 476.64 L244.73 475.75 L244.93 475.49 L245.13 474.13 L245.33 474.79 L245.53 472.93 L245.73 472.96 L245.93 471.96 L246.13 471.87 L246.33 470.64 L246.53 470.03 L246.73 469.23 L246.93 468.73 L247.13 467.97 L247.33 467.18 L247.53 467.2 L247.73 466.95 L247.93 466.38 L248.13 464.84 L248.33 464.72 L248.53 463.43 L248.73 463.29 L248.93 463.19 L249.13 461.65 L249.33 460.53 L249.53 460.95 L249.73 460.72 L249.93 460.06 L250.13 458.6 L250.33 458.72 L250.53 458.03 L250.73 456.87 L250.93 456.61 L251.13 455.95 L251.33 455.69 L251.53 455.14 L251.73 454.13 L251.93 453.53 L252.13 452.71 L252.33 452.68 L252.53 451.64 L252.73 450.98 L252.93 450.6 L253.13 449.75 L253.33 448.92 L253.53 448.77 L253.73 448.25 L253.93 448.23 L254.13 446.95 L254.33 446.6 L254.53 446.14 L254.73 445.84 L254.93 444.49 L255.13 442.81 L255.33 443.42 L255.53 443.05 L255.73 442.28 L255.93 442.3 L256.13 441.34 L256.33 441.21 L256.53 440.64 L256.73 439.58 L256.93 439.02 L257.13 438.66 L257.33 438.51 L257.53 437.34 L257.73 437.58 L257.93 435.94 L258.13 436.05 L258.33 435.3 L258.53 434.29 L258.73 433.89 L258.93 434.46 L259.13 433.3 L259.33 432.39 L259.53 432.75 L259.73 433.02 L259.93 431.07 L260.13 430.53 L260.33 429.72 L260.53 429.41 L260.73 428.86 L260.93 428.28 L261.13 427.06 L261.33 427.1 L261.52 426.56 L261.72 426.64 L261.92 425.18 L262.12 425.51 L262.32 424.42 L262.52 425.75 L262.72 423.74 L262.92 423.47 L263.12 423.22 L263.32 421.6 L263.52 421.69 L263.72 421.56 L263.92 421.34 L264.12 419.29 L264.32 419.55 L264.52 419.14 L264.72 419.61 L264.92 417.78 L265.12 417.81 L265.32 417.9 L265.52 417.33 L265.72 417.9 L265.92 415.92 L266.12 416.65 L266.32 414.89 L266.52 415.32 L266.72 415.01 L266.92 413.89 L267.12 413.57 L267.32 414.05 L267.52 412.9 L267.72 412.01 L267.92 412.18 L268.12 412.51 L268.32 411.33 L268.52 411.42 L268.72 410.74 L268.92 409.9 L269.12 409.56 L269.32 409.27 L269.52 409.89 L269.72 408.08 L269.92 408.08 L270.12 407.83 L270.32 407.05 L270.52 405.4 L270.72 407.31 L270.92 407.17 L271.12 405.09 L271.32 405.84 L271.52 403.96 L271.72 405.25 L271.92 404.52 L272.12 403.21 L272.32 402.8 L272.52 402.78 L272.72 402.42 L272.92 402.5 L273.12 402.39 L273.32 401.88 L273.52 400.46 L273.72 400.54 L273.92 400.71 L274.12 400.17 L274.32 399.46 L274.52 398.88 L274.72 399.54 L274.92 399.18 L275.12 398.57 L275.32 396.56 L275.52 398.02 L275.72 396.96 L275.92 398.76 L276.12 396.68 L276.32 398.08 L276.52 397.55 L276.72 396.93 L276.92 396.28 L277.12 395.76 L277.32 395.35 L277.52 395.18 L277.72 395.42 L277.92 392.85 L278.12 394.27 L278.32 393.8 L278.52 392.51 L278.71 393.07 L278.91 393.12 L279.11 393.07 L279.31 391.65 L279.51 393.68 L279.71 393.35 L279.91 392.27 L280.11 393.73 L280.31 392.54 L280.51 390.85 L280.71 391.87 L280.91 391.17 L281.11 390.56 L281.31 391.79 L281.51 390.48 L281.71 390.98 L281.91 391.15 L282.11 390.33 L282.31 389.97 L282.51 390.06 L282.71 390.08 L282.91 388.64 L283.11 388.32 L283.31 388.62 L283.51 388.96 L283.71 389.55 L283.91 389.22 L284.11 389.29 L284.31 388.1 L284.51 387.41 L284.71 387.26 L284.91 387.86 L285.11 388.01 L285.31 387.44 L285.51 387.35 L285.71 386.86 L285.91 386.04 L286.11 387.63 L286.31 385.32 L286.51 388.53 L286.71 388.17 L286.91 387.86 L287.11 387.37 L287.31 386.65 L287.51 384.74 L287.71 386.84 L287.91 385.33 L288.11 386.41 L288.31 385.93 L288.51 386.79 L288.71 384.1 L288.91 385.87 L289.11 386.27 L289.31 383.92 L289.51 385.53 L289.71 385.29 L289.91 385.69 L290.11 386.19 L290.31 386.63 L290.51 385.6 L290.71 384.14 L290.91 385.06 L291.11 385.51 L291.31 384.51 L291.51 386.08 L291.71 384.23 L291.91 385.33 L292.11 385.97 L292.31 384.77 L292.51 384.9 L292.71 385.59 L292.91 385.15 L293.11 384.56 L293.31 384.23 L293.51 386.05 L293.71 387.49 L293.91 383.79 L294.11 385.67 L294.31 385.82 L294.51 385.19 L294.71 385.91 L294.91 384.79 L295.11 386.66 L295.31 385.89 L295.51 386.78 L295.71 384.63 L295.9 386.1 L296.1 385.1 L296.3 384.95 L296.5 387.07 L296.7 386.38 L296.9 385.72 L297.1 386.34 L297.3 386.57 L297.5 385.89 L297.7 385.94 L297.9 387.23 L298.1 386.97 L298.3 386.46 L298.5 386.92 L298.7 387.09 L298.9 388.21 L299.1 386.06 L299.3 387.76 L299.5 387.5 L299.7 387.87 L299.9 387.93 L300.1 388 L300.3 388.93 L300.5 388.12 L300.7 387.63 L300.9 388.41 L301.1 388.32 L301.3 388.67 L301.5 389.2 L301.7 387.97 L301.9 390.1 L302.1 389.44 L302.3 389.13 L302.5 389.88 L302.7 391.12 L302.9 391.34 L303.1 389.48 L303.3 391.63 L303.5 391.09 L303.7 390.88 L303.9 391.44 L304.1 393.1 L304.3 393.4 L304.5 392.24 L304.7 392.98 L304.9 392.82 L305.1 392.78 L305.3 392.96 L305.5 394.34 L305.7 394.85 L305.9 393.09 L306.1 394.54 L306.3 395.2 L306.5 396.08 L306.7 394.42 L306.9 396.04 L307.1 396.15 L307.3 395.15 L307.5 395.67 L307.7 395.75 L307.9 397.41 L308.1 398.89 L308.3 397.76 L308.5 397.54 L308.7 398.1 L308.9 397.24 L309.1 397.94 L309.3 399.29 L309.5 398.4 L309.7 399.24 L309.9 399.8 L310.1 398.93 L310.3 401.31 L310.5 399.64 L310.7 399.92 L310.9 402.57 L311.1 401.53 L311.3 401.85 L311.5 402.9 L311.7 402.83 L311.9 403.35 L312.1 403.06 L312.3 403.86 L312.5 405.36 L312.7 403.31 L312.9 403.89 L313.09 405.5 L313.29 404.64 L313.49 404.19 L313.69 407.13 L313.89 406.69 L314.09 407.14 L314.29 406.76 L314.49 407.76 L314.69 408.93 L314.89 407.44 L315.09 408.95 L315.29 408.61 L315.49 407.92 L315.69 410.45 L315.89 410.63 L316.09 410.12 L316.29 411.24 L316.49 411.22 L316.69 412 L316.89 410.49 L317.09 412.41 L317.29 413.04 L317.49 413.62 L317.69 413.88 L317.89 415.69 L318.09 415.21 L318.29 414.96 L318.49 416.72 L318.69 416.33 L318.89 416.87 L319.09 417.61 L319.29 416.05 L319.49 417.7 L319.69 418.42 L319.89 419.63 L320.09 419.52 L320.29 420.24 L320.49 420.58 L320.69 420.85 L320.89 419.84 L321.09 421.08 L321.29 421.33 L321.49 422.03 L321.69 421.59 L321.89 424.32 L322.09 425.22 L322.29 424.76 L322.49 425.22 L322.69 425.87 L322.89 426.79 L323.09 426.46 L323.29 426.32 L323.49 427.78 L323.69 428.57 L323.89 428.2 L324.09 429.65 L324.29 430.2 L324.49 430.31 L324.69 432.43 L324.89 430.4 L325.09 432.15 L325.29 432.3 L325.49 432.96 L325.69 433.44 L325.89 435.02 L326.09 433.7 L326.29 434.96 L326.49 435.67 L326.69 434.53 L326.89 437.68 L327.09 437.05 L327.29 438.1 L327.49 439.47 L327.69 438.03 L327.89 440.6 L328.09 440.19 L328.29 440.88 L328.49 441.29 L328.69 442.49 L328.89 441.75 L329.09 442.95 L329.29 444.38 L329.49 444.91 L329.69 444.66 L329.89 446.03 L330.09 445.72 L330.28 446.36 L330.48 447.44 L330.68 448.75 L330.88 448.99 L331.08 448.68 L331.28 449.74 L331.48 449.06 L331.68 450.87 L331.88 451.03 L332.08 451.47 L332.28 452.37 L332.48 452.85 L332.68 453.09 L332.88 454.28 L333.08 454.63 L333.28 455.59 L333.48 454.99 L333.68 456.53 L333.88 456.79 L334.08 459.31 L334.28 458.67 L334.48 459.59 L334.68 459.62 L334.88 460.47 L335.08 461.37 L335.28 461.61 L335.48 461.69 L335.68 462.19 L335.88 463.57 L336.08 463.43 L336.28 464.84 L336.48 464.87 L336.68 466.18 L336.88 465.91 L337.08 465.94 L337.28 467.77 L337.48 467.69 L337.68 469.53 L337.88 469.78 L338.08 468.92 L338.28 470.77 L338.48 471.13 L338.68 472.7 L338.88 472.61 L339.08 473.57 L339.28 473.33 L339.48 474.7 L339.68 474 L339.88 476.19 L340.08 476.21 L340.28 477.81 L340.48 477.76 L340.68 477.71 L340.88 478.89 L341.08 480 L341.28 479.89 L341.48 480.33 L341.68 481.16 L341.88 481.56 L342.08 483.15 L342.28 482.49 L342.48 483.55 L342.68 485.27 L342.88 484.35 L343.08 485.87 L343.28 486.12 L343.48 487.69 L343.68 487.79 L343.88 488.86 L344.08 488.48 L344.28 489.5 L344.48 490.36 L344.68 490.78 L344.88 490.85 L345.08 492.15 L345.28 492.28 L345.48 493.51 L345.68 494.29 L345.88 494.49 L346.08 495.03 L346.28 495.47 L346.48 495.82 L346.68 496.89 L346.88 497.47 L347.08 497.7 L347.28 498.41 L347.48 499.17 L347.67 499.68 L347.87 501.05 L348.07 501.12 L348.27 502.04 L348.47 502.24 L348.67 502.44 L348.87 503.83 L349.07 503.61 L349.27 504.65 L349.47 505.12 L349.67 505.78 L349.87 506.01 L350.07 506.99 L350.27 507.97 L350.47 507.84 L350.67 508.55 L350.87 508.89 L351.07 509.47 L351.27 510.54 L351.47 510.7 L351.67 511.28 L351.87 511.89 L352.07 512.39 L352.27 512.88 L352.47 513.66 L352.67 514.1 L352.87 514.34 L353.07 515.41 L353.27 515.69 L353.47 516.46 L353.67 517 L353.87 517.36 L354.07 517.73 L354.27 517.92 L354.47 518.85 L354.67 519.09 L354.87 519.69 L355.07 520.31 L355.27 521.56 L355.47 521.3 L355.67 521.8 L355.87 522.55 L356.07 522.76 L356.27 522.94 L356.47 524.01 L356.67 524.34 L356.87 524.49 L357.07 525.55 L357.27 525.84 L357.47 526.01 L357.67 526.33 L357.87 526.72 L358.07 527.26 L358.27 527.38 L358.47 528.21 L358.67 528.98 L358.87 529.19 L359.07 529.44 L359.27 529.91 L359.47 530.77 L359.67 530.72 L359.87 531.35 L360.07 531.63 L360.27 531.71 L360.47 532.4 L360.67 532.87 L360.87 533.15 L361.07 533.61 L361.27 533.49 L361.47 534.07 L361.67 534.41 L361.87 535.04 L362.07 535.37 L362.27 535.55 L362.47 536.31 L362.67 536.08 L362.87 536.79 L363.07 536.87 L363.27 537.14 L363.47 537.63 L363.67 537.73 L363.87 537.97 L364.07 538.06 L364.27 538.58 L364.47 538.62 L364.67 539.1 L364.86 539.47 L365.06 539.55 L365.26 540.01 L365.46 540.15 L365.66 540.31 L365.86 540.46 L366.06 540.81 L366.26 541.29 L366.46 541.08 L366.66 541.45 L366.86 541.71 L367.06 541.97 L367.26 541.95 L367.46 542.16 L367.66 542.27 L367.86 542.55 L368.06 542.46 L368.26 542.87 L368.46 542.91 L368.66 543.07 L368.86 543.07 L369.06 543.44 L369.26 543.49 L369.46 543.59 L369.66 543.75 L369.86 543.83 L370.06 543.99 L370.26 543.8 L370.46 543.76 L370.66 544.17 L370.86 543.98 L371.06 544.29 L371.26 544.28 L371.46 544.25 L371.66 544.21 L371.86 544.18 L372.06 544.52 L372.26 544.44 L372.46 544.24 L372.66 544.28 L372.86 543.93 L373.06 544.24 L373.26 544.26 L373.46 543.96 L373.66 544.45 L373.86 544.29 L374.06 543.59 L374.26 543.99 L374.46 543.82 L374.66 543.77 L374.86 543.78 L375.06 543.58 L375.26 543.64 L375.46 543.21 L375.66 543.12 L375.86 543 L376.06 543.1 L376.26 543.11 L376.46 542.75 L376.66 542.69 L376.86 542.32 L377.06 542.44 L377.26 542.17 L377.46 541.83 L377.66 541.6 L377.86 541.46 L378.06 541.46 L378.26 541.17 L378.46 540.55 L378.66 540.49 L378.86 540.53 L379.06 539.88 L379.26 539.96 L379.46 539.69 L379.66 539.57 L379.86 538.94 L380.06 538.9 L380.26 538.66 L380.46 538.51 L380.66 538.29 L380.86 537.76 L381.06 537.5 L381.26 536.94 L381.46 537.04 L381.66 536.64 L381.86 536.09 L382.05 535.79 L382.25 535.72 L382.45 535.01 L382.65 534.84 L382.85 534.41 L383.05 534.16 L383.25 533.69 L383.45 533.57 L383.65 533.17 L383.85 532.55 L384.05 532.3 L384.25 531.92 L384.45 531.38 L384.65 531.16 L384.85 530.72 L385.05 530.82 L385.25 530.09 L385.45 529.41 L385.65 529.33 L385.85 528.78 L386.05 528.25 L386.25 527.89 L386.45 527.24 L386.65 526.88 L386.85 526.57 L387.05 525.85 L387.25 525.7 L387.45 525.31 L387.65 524.62 L387.85 524.09 L388.05 523.78 L388.25 523.52 L388.45 522.91 L388.65 522.26 L388.85 521.66 L389.05 520.91 L389.25 520.87 L389.45 520.38 L389.65 520.34 L389.85 519.01 L390.05 518.58 L390.25 518.29 L390.45 517.95 L390.65 517.91 L390.85 516.54 L391.05 516.4 L391.25 515.28 L391.45 514.94 L391.65 514.26 L391.85 514.1 L392.05 513.2 L392.25 513.35 L392.45 512.03 L392.65 511.88 L392.85 511.64 L393.05 510.87 L393.25 510.47 L393.45 509.56 L393.65 509.28 L393.85 508.87 L394.05 508.04 L394.25 507.44 L394.45 506.73 L394.65 506.01 L394.85 505.26 L395.05 504.94 L395.25 503.98 L395.45 504.65 L395.65 503.33 L395.85 502.43 L396.05 502.54 L396.25 501.6 L396.45 500.88 L396.65 500.85 L396.85 499.94 L397.05 498.96 L397.25 498.66 L397.45 497.45 L397.65 496.57 L397.85 496.77 L398.05 496.53 L398.25 495.55 L398.45 495.12 L398.65 494.82 L398.85 493.85 L399.05 493.26 L399.24 492.61 L399.44 491.55 L399.64 490.88 L399.84 490.5 L400.04 490.16 L400.24 489.26 L400.44 488.79 L400.64 488.09 L400.84 487.92 L401.04 488.1 L401.24 485.98 L401.44 485.93 L401.64 485.27 L401.84 484.46 L402.04 483.85 L402.24 483.33 L402.44 481.98 L402.64 481.91 L402.84 481.25 L403.04 481.07 L403.24 480.13 L403.44 479.28 L403.64 478.88 L403.84 478.09 L404.04 477.99 L404.24 476.82 L404.44 476.78 L404.64 475.91 L404.84 475.43 L405.04 474.4 L405.24 473.38 L405.44 473.1 L405.64 472.99 L405.84 471.92 L406.04 470.9 L406.24 470.42 L406.44 469.89 L406.64 470 L406.84 469.13 L407.04 468.56 L407.24 467.85 L407.44 466.91 L407.64 466.38 L407.84 465.94 L408.04 464.9 L408.24 464.88 L408.44 464.09 L408.64 463.27 L408.84 463.35 L409.04 462.5 L409.24 462.15 L409.44 461.37 L409.64 460.33 L409.84 459.71 L410.04 458.87 L410.24 458.27 L410.44 458.39 L410.64 456.29 L410.84 455.94 L411.04 456.63 L411.24 455.76 L411.44 455.06 L411.64 454.11 L411.84 453.3 L412.04 453.02 L412.24 453.75 L412.44 450.33 L412.64 450.79 L412.84 450.21 L413.04 450.45 L413.24 449.41 L413.44 448.38 L413.64 448.55 L413.84 447.09 L414.04 447.08 L414.24 445.69 L414.44 445.94 L414.64 444.57 L414.84 445.7 L415.04 443.44 L415.24 443.42 L415.44 443.31 L415.64 441.93 L415.84 442.11 L416.04 440.93 L416.24 440.29 L416.43 439.67 L416.63 438.45 L416.83 438.36 L417.03 437.15 L417.23 437.63 L417.43 437.4 L417.63 436.71 L417.83 436.42 L418.03 436.58 L418.23 435.22 L418.43 435.47 L418.63 434.39 L418.83 433.87 L419.03 433.48 L419.23 433.26 L419.43 432.02 L419.63 431.57 L419.83 430.19 L420.03 430.12 L420.23 429.4 L420.43 429.75 L420.63 429.14 L420.83 429.21 L421.03 428.46 L421.23 426.96 L421.43 427.02 L421.63 426.48 L421.83 426.25 L422.03 424.41 L422.23 424.93 L422.43 423.67 L422.63 423.93 L422.83 422.8 L423.03 423.55 L423.23 423.31 L423.43 421.24 L423.63 421.67 L423.83 420.82 L424.03 419.95 L424.23 419.59 L424.43 419.4 L424.63 419.89 L424.83 419.11 L425.03 418.16 L425.23 417.3 L425.43 416.92 L425.63 416.57 L425.83 416.88 L426.03 415.92 L426.23 414.81 L426.43 415.61 L426.63 414.97 L426.83 413.53 L427.03 412.63 L427.23 413 L427.43 412.85 L427.63 413.08 L427.83 412.09 L428.03 412.13 L428.23 411.07 L428.43 410.26 L428.63 410.03 L428.83 409.03 L429.03 410.24 L429.23 410.01 L429.43 407.77 L429.63 407.6 L429.83 408.62 L430.03 407.45 L430.23 407.92 L430.43 406.79 L430.63 406.17 L430.83 405.33 L431.03 406.33 L431.23 406.18 L431.43 404.49 L431.63 404.78 L431.83 403.16 L432.03 404.64 L432.23 403.93 L432.43 405.09 L432.63 401.94 L432.83 401.44 L433.03 401.76 L433.23 401.95 L433.43 402.87 L433.62 402.06 L433.82 401.12 L434.02 399 L434.22 399.42 L434.42 400.2 L434.62 399.12 L434.82 398.71 L435.02 398.44 L435.22 399.2 L435.42 398.53 L435.62 397.16 L435.82 397.09 L436.02 397.57 L436.22 395.19 L436.42 396.53 L436.62 396.76 L436.82 395.49 L437.02 395.29 L437.22 395.72 L437.42 393.99 L437.62 394.27 L437.82 394.8 L438.02 394.02 L438.22 393.8 L438.42 394.27 L438.62 393.25 L438.82 393.97 L439.02 393.5 L439.22 392.57 L439.42 393.8 L439.62 392.88 L439.82 393.13 L440.02 391.61 L440.22 392.38 L440.42 390.31 L440.62 390.32 L440.82 391.83 L441.02 390.97 L441.22 391.16 L441.42 390.69 L441.62 389.96 L441.82 389.14 L442.02 388.41 L442.22 388.48 L442.42 390.72 L442.62 389.93 L442.82 389.53 L443.02 389.46 L443.22 388.93 L443.42 388.38 L443.62 389.08 L443.82 389.03 L444.02 386.56 L444.22 387.72 L444.42 386.42 L444.62 388.42 L444.82 386.75 L445.02 386.38 L445.22 386.52 L445.42 388.04 L445.62 386.89 L445.82 387.81 L446.02 387.97 L446.22 386.98 L446.42 386.46 L446.62 386.92 L446.82 386.74 L447.02 386.05 L447.22 387 L447.42 386.03 L447.62 385.66 L447.82 385.68 L448.02 385.67 L448.22 386.84 L448.42 386.2 L448.62 386.24 L448.82 385.27 L449.02 387.17 L449.22 385.61 L449.42 386.94 L449.62 385.1 L449.82 385.98 L450.02 385.49 L450.22 384.74 L450.42 384.09 L450.62 386.21 L450.81 385.29 L451.01 386.92 L451.21 385.51 L451.41 385.88 L451.61 384.78 L451.81 385.39 L452.01 385.22 L452.21 386.19" fill="none" stroke="#CC6677" stroke-width="1.35" stroke-linejoin="round"/>
<path d="M116.3 374.7V553.5H469.0" fill="none" stroke="#111" stroke-width="1.3"/>
<path d="M122.22 553.5v4.7M142.58 553.5v4.7M152.76 553.5v4.7M162.94 553.5v4.7M173.12 553.5v4.7M193.48 553.5v4.7M203.66 553.5v4.7M213.84 553.5v4.7M224.02 553.5v4.7M244.38 553.5v4.7M254.56 553.5v4.7M264.74 553.5v4.7M274.92 553.5v4.7M295.28 553.5v4.7M305.46 553.5v4.7M315.64 553.5v4.7M325.82 553.5v4.7M346.18 553.5v4.7M356.36 553.5v4.7M366.54 553.5v4.7M376.72 553.5v4.7M397.08 553.5v4.7M407.26 553.5v4.7M417.44 553.5v4.7M427.62 553.5v4.7M447.98 553.5v4.7M458.16 553.5v4.7M116.3 538.84h-5M116.3 530.49h-5M116.3 522.15h-5M116.3 513.8h-5M116.3 497.12h-5M116.3 488.77h-5M116.3 480.43h-5M116.3 472.08h-5M116.3 455.4h-5M116.3 447.05h-5M116.3 438.71h-5M116.3 430.36h-5M116.3 413.68h-5M116.3 405.33h-5M116.3 396.99h-5M116.3 388.64h-5" fill="none" stroke="#111" stroke-width="1.25"/>
<path d="M132.4 551.1v9.6M183.3 551.1v9.6M234.2 551.1v9.6M285.95 551.1v9.6M336 551.1v9.6M386.9 551.1v9.6M437.8 551.1v9.6M118.6 380.3h-9.7M118.6 423h-9.7M118.6 464.4h-9.7M118.6 505.7h-9.7M118.6 547.2h-9.7" fill="none" stroke="#111" stroke-width="1.5"/>
<text x="132.4" y="580.9" text-anchor="middle" font-family="Liberation Sans, sans-serif" font-size="21" fill="#3d3d3d" textLength="11.3" lengthAdjust="spacingAndGlyphs">0</text>
<text x="183.3" y="580.9" text-anchor="middle" font-family="Liberation Sans, sans-serif" font-size="21" fill="#3d3d3d" textLength="11.3" lengthAdjust="spacingAndGlyphs">1</text>
<text x="234.2" y="580.9" text-anchor="middle" font-family="Liberation Sans, sans-serif" font-size="21" fill="#3d3d3d" textLength="11.3" lengthAdjust="spacingAndGlyphs">2</text>
<text x="285.95" y="580.9" text-anchor="middle" font-family="Liberation Sans, sans-serif" font-size="21" fill="#3d3d3d" textLength="11.3" lengthAdjust="spacingAndGlyphs">3</text>
<text x="336" y="580.9" text-anchor="middle" font-family="Liberation Sans, sans-serif" font-size="21" fill="#3d3d3d" textLength="11.3" lengthAdjust="spacingAndGlyphs">4</text>
<text x="386.9" y="580.9" text-anchor="middle" font-family="Liberation Sans, sans-serif" font-size="21" fill="#3d3d3d" textLength="11.3" lengthAdjust="spacingAndGlyphs">5</text>
<text x="437.8" y="580.9" text-anchor="middle" font-family="Liberation Sans, sans-serif" font-size="21" fill="#3d3d3d" textLength="11.3" lengthAdjust="spacingAndGlyphs">6</text>
<text x="103.4" y="388.15" text-anchor="end" font-family="Liberation Sans, sans-serif" font-size="21" fill="#3d3d3d" textLength="11.4" lengthAdjust="spacingAndGlyphs">8</text>
<text x="103.4" y="430.85" text-anchor="end" font-family="Liberation Sans, sans-serif" font-size="21" fill="#3d3d3d" textLength="11.4" lengthAdjust="spacingAndGlyphs">7</text>
<text x="103.4" y="472.25" text-anchor="end" font-family="Liberation Sans, sans-serif" font-size="21" fill="#3d3d3d" textLength="11.4" lengthAdjust="spacingAndGlyphs">6</text>
<text x="103.4" y="513.55" text-anchor="end" font-family="Liberation Sans, sans-serif" font-size="21" fill="#3d3d3d" textLength="11.4" lengthAdjust="spacingAndGlyphs">5</text>
<text x="103.4" y="555.05" text-anchor="end" font-family="Liberation Sans, sans-serif" font-size="21" fill="#3d3d3d" textLength="11.4" lengthAdjust="spacingAndGlyphs">4</text>
<rect x="515" y="40.5" width="168.5" height="102" fill="#fff" stroke="#e9e9e9" stroke-width="1.3"/>
<line x1="527" y1="64.4" x2="550.6" y2="64.4" stroke="#332288" stroke-width="1.2"/>
<line x1="527" y1="91.5" x2="550.6" y2="91.5" stroke="#117733" stroke-width="1.2"/>
<line x1="527" y1="118.9" x2="550.6" y2="118.9" stroke="#CC6677" stroke-width="1.2"/>
<text transform="matrix(0.1646 0 0 0.1684 557.03 69.60)" font-family="Liberation Serif, serif" font-style="normal" font-size="100" fill="#262626">2</text>
<text transform="matrix(0.1954 0 0 0.1503 566.20 69.55)" font-family="Liberation Serif, serif" font-style="italic" font-size="100" fill="#262626">x</text>
<text transform="matrix(0.1347 0 0 0.1133 576.46 63.15)" font-family="Liberation Serif, serif" font-style="normal" font-size="100" fill="#262626">2</text>
<text transform="matrix(0.2418 0 0 0.2383 587.70 73.31)" font-family="Liberation Serif, serif" font-style="normal" font-size="100" fill="#262626">+</text>
<text transform="matrix(0.1721 0 0 0.1694 604.61 69.60)" font-family="Liberation Serif, serif" font-style="normal" font-size="100" fill="#262626">4</text>
<text transform="matrix(0.1487 0 0 0.1556 615.19 69.79)" font-family="Liberation Serif, serif" font-style="italic" font-size="100" fill="#262626">y</text>
<text transform="matrix(0.1721 0 0 0.1694 556.91 96.10)" font-family="Liberation Serif, serif" font-style="normal" font-size="100" fill="#262626">4</text>
<text transform="matrix(0.1794 0 0 0.1503 567.12 96.05)" font-family="Liberation Serif, serif" font-style="italic" font-size="100" fill="#262626">x</text>
<text transform="matrix(0.2299 0 0 0.2383 580.20 99.81)" font-family="Liberation Serif, serif" font-style="normal" font-size="100" fill="#262626">+</text>
<text transform="matrix(0.1721 0 0 0.1694 597.11 96.10)" font-family="Liberation Serif, serif" font-style="normal" font-size="100" fill="#262626">4</text>
<text transform="matrix(0.1421 0 0 0.1556 607.74 96.29)" font-family="Liberation Serif, serif" font-style="italic" font-size="100" fill="#262626">y</text>
<text transform="matrix(0.1721 0 0 0.1694 556.91 124.90)" font-family="Liberation Serif, serif" font-style="normal" font-size="100" fill="#262626">4</text>
<text transform="matrix(0.1694 0 0 0.1908 566.61 125.29)" font-family="Liberation Serif, serif" font-style="normal" font-size="100" fill="#262626">(</text>
<text transform="matrix(0.1581 0 0 0.1652 572.75 124.74)" font-family="Liberation Serif, serif" font-style="normal" font-size="100" fill="#262626">0</text>
<text transform="matrix(0.1354 0 0 0.1269 581.56 124.67)" font-family="Liberation Serif, serif" font-style="normal" font-size="100" fill="#262626">.</text>
<text transform="matrix(0.1684 0 0 0.1684 585.41 124.90)" font-family="Liberation Serif, serif" font-style="normal" font-size="100" fill="#262626">2</text>
<text transform="matrix(0.1954 0 0 0.1503 594.63 124.85)" font-family="Liberation Serif, serif" font-style="italic" font-size="100" fill="#262626">x</text>
<text transform="matrix(0.1347 0 0 0.1133 604.86 118.45)" font-family="Liberation Serif, serif" font-style="normal" font-size="100" fill="#262626">2</text>
<text transform="matrix(0.1674 0 0 0.1908 612.91 125.29)" font-family="Liberation Serif, serif" font-style="normal" font-size="100" fill="#262626">)</text>
<text transform="matrix(0.2407 0 0 0.2383 623.05 128.61)" font-family="Liberation Serif, serif" font-style="normal" font-size="100" fill="#262626">+</text>
<text transform="matrix(0.1684 0 0 0.1684 640.81 124.90)" font-family="Liberation Serif, serif" font-style="normal" font-size="100" fill="#262626">2</text>
<text transform="matrix(0.1487 0 0 0.1556 650.84 125.09)" font-family="Liberation Serif, serif" font-style="italic" font-size="100" fill="#262626">y</text>
<rect x="480.1" y="387.2" width="168.6" height="101.8" fill="#fff" stroke="#e9e9e9" stroke-width="1.3"/>
<line x1="492" y1="411.3" x2="515.4" y2="411.3" stroke="#332288" stroke-width="1.5"/>
<line x1="492" y1="438.3" x2="515.4" y2="438.3" stroke="#117733" stroke-width="1.5"/>
<line x1="492" y1="465.9" x2="515.4" y2="465.9" stroke="#CC6677" stroke-width="1.5"/>
<text transform="matrix(0.1559 0 0 0.1684 522.36 416.60)" font-family="Liberation Serif, serif" font-style="normal" font-size="100" fill="#262626">2</text>
<text transform="matrix(0.1939 0 0 0.1503 530.99 416.55)" font-family="Liberation Serif, serif" font-style="italic" font-size="100" fill="#262626">x</text>
<text transform="matrix(0.1347 0 0 0.1133 540.96 410.15)" font-family="Liberation Serif, serif" font-style="normal" font-size="100" fill="#262626">2</text>
<text transform="matrix(0.2385 0 0 0.2383 552.06 420.31)" font-family="Liberation Serif, serif" font-style="normal" font-size="100" fill="#262626">+</text>
<text transform="matrix(0.1678 0 0 0.1694 569.02 416.60)" font-family="Liberation Serif, serif" font-style="normal" font-size="100" fill="#262626">4</text>
<text transform="matrix(0.1525 0 0 0.1556 579.22 416.79)" font-family="Liberation Serif, serif" font-style="italic" font-size="100" fill="#262626">y</text>
<text transform="matrix(0.1613 0 0 0.1694 522.43 443.10)" font-family="Liberation Serif, serif" font-style="normal" font-size="100" fill="#262626">4</text>
<text transform="matrix(0.1683 0 0 0.1503 532.11 443.05)" font-family="Liberation Serif, serif" font-style="italic" font-size="100" fill="#262626">x</text>
<text transform="matrix(0.2385 0 0 0.2383 544.36 446.81)" font-family="Liberation Serif, serif" font-style="normal" font-size="100" fill="#262626">+</text>
<text transform="matrix(0.1721 0 0 0.1694 561.61 443.10)" font-family="Liberation Serif, serif" font-style="normal" font-size="100" fill="#262626">4</text>
<text transform="matrix(0.1421 0 0 0.1556 572.14 443.29)" font-family="Liberation Serif, serif" font-style="italic" font-size="100" fill="#262626">y</text>
<text transform="matrix(0.1613 0 0 0.1694 522.43 470.90)" font-family="Liberation Serif, serif" font-style="normal" font-size="100" fill="#262626">4</text>
<text transform="matrix(0.1518 0 0 0.1908 531.68 471.29)" font-family="Liberation Serif, serif" font-style="normal" font-size="100" fill="#262626">(</text>
<text transform="matrix(0.1628 0 0 0.1652 537.23 470.74)" font-family="Liberation Serif, serif" font-style="normal" font-size="100" fill="#262626">0</text>
<text transform="matrix(0.1185 0 0 0.1269 546.37 470.67)" font-family="Liberation Serif, serif" font-style="normal" font-size="100" fill="#262626">.</text>
<text transform="matrix(0.1596 0 0 0.1684 549.95 470.90)" font-family="Liberation Serif, serif" font-style="normal" font-size="100" fill="#262626">2</text>
<text transform="matrix(0.1954 0 0 0.1503 558.80 470.85)" font-family="Liberation Serif, serif" font-style="italic" font-size="100" fill="#262626">x</text>
<text transform="matrix(0.1397 0 0 0.1133 569.04 464.45)" font-family="Liberation Serif, serif" font-style="normal" font-size="100" fill="#262626">2</text>
<text transform="matrix(0.1557 0 0 0.1908 577.15 471.29)" font-family="Liberation Serif, serif" font-style="normal" font-size="100" fill="#262626">)</text>
<text transform="matrix(0.2407 0 0 0.2383 586.45 474.61)" font-family="Liberation Serif, serif" font-style="normal" font-size="100" fill="#262626">+</text>
<text transform="matrix(0.1671 0 0 0.1684 604.22 470.90)" font-family="Liberation Serif, serif" font-style="normal" font-size="100" fill="#262626">2</text>
<text transform="matrix(0.1440 0 0 0.1556 614.15 471.09)" font-family="Liberation Serif, serif" font-style="italic" font-size="100" fill="#262626">y</text>
<text transform="matrix(0.2759 0 0 0.2192 -1.07 18.19)" font-family="Liberation Serif, serif" font-style="normal" font-size="100" fill="#1c1c1c">a</text>
<text transform="matrix(0.2180 0 0 0.2663 11.60 17.83)" font-family="Liberation Serif, serif" font-style="normal" font-size="100" fill="#1c1c1c">)</text>
<text transform="matrix(0.2533 0 0 0.2402 0.00 365.27)" font-family="Liberation Serif, serif" font-style="normal" font-size="100" fill="#1c1c1c">b</text>
<text transform="matrix(0.2180 0 0 0.2570 13.50 365.03)" font-family="Liberation Serif, serif" font-style="normal" font-size="100" fill="#1c1c1c">)</text>
<text transform="matrix(0.3058 0 0 0.2920 271.36 265.01)" font-family="Liberation Serif, serif" font-style="italic" font-size="100" fill="#404040">θ</text>
<text transform="matrix(0.2562 0 0 0.3253 287.14 265.67)" font-family="Liberation Serif, serif" font-style="normal" font-size="100" fill="#404040">(</text>
<text transform="matrix(0.3013 0 0 0.2870 297.23 265.00)" font-family="Liberation Serif, serif" font-style="italic" font-size="100" fill="#404040">i</text>
<text transform="matrix(0.2687 0 0 0.3253 308.13 265.67)" font-family="Liberation Serif, serif" font-style="normal" font-size="100" fill="#404040">)</text>
<text transform="matrix(0.1931 0 0 0.3564 327.77 267.83)" font-family="Liberation Serif, serif" font-style="normal" font-size="100" fill="#404040">[</text>
<text transform="matrix(0.3452 0 0 0.2844 334.11 264.80)" font-family="Liberation Serif, serif" font-style="normal" font-size="100" fill="#404040">r</text>
<text transform="matrix(0.3038 0 0 0.2860 345.93 264.82)" font-family="Liberation Serif, serif" font-style="normal" font-size="100" fill="#404040">a</text>
<text transform="matrix(0.2867 0 0 0.2914 359.76 264.82)" font-family="Liberation Serif, serif" font-style="normal" font-size="100" fill="#404040">d</text>
<text transform="matrix(0.1886 0 0 0.3564 375.02 267.83)" font-family="Liberation Serif, serif" font-style="normal" font-size="100" fill="#404040">]</text>
<text transform="matrix(0.3058 0 0 0.2920 236.16 612.11)" font-family="Liberation Serif, serif" font-style="italic" font-size="100" fill="#404040">θ</text>
<text transform="matrix(0.2562 0 0 0.3253 251.94 612.77)" font-family="Liberation Serif, serif" font-style="normal" font-size="100" fill="#404040">(</text>
<text transform="matrix(0.3013 0 0 0.2870 262.03 612.10)" font-family="Liberation Serif, serif" font-style="italic" font-size="100" fill="#404040">i</text>
<text transform="matrix(0.2687 0 0 0.3253 272.93 612.77)" font-family="Liberation Serif, serif" font-style="normal" font-size="100" fill="#404040">)</text>
<text transform="matrix(0.1931 0 0 0.3564 292.57 614.93)" font-family="Liberation Serif, serif" font-style="normal" font-size="100" fill="#404040">[</text>
<text transform="matrix(0.3452 0 0 0.2844 298.91 611.90)" font-family="Liberation Serif, serif" font-style="normal" font-size="100" fill="#404040">r</text>
<text transform="matrix(0.3038 0 0 0.2860 310.73 611.92)" font-family="Liberation Serif, serif" font-style="normal" font-size="100" fill="#404040">a</text>
<text transform="matrix(0.2867 0 0 0.2914 324.56 611.92)" font-family="Liberation Serif, serif" font-style="normal" font-size="100" fill="#404040">d</text>
<text transform="matrix(0.1886 0 0 0.3564 339.82 614.93)" font-family="Liberation Serif, serif" font-style="normal" font-size="100" fill="#404040">]</text>
<g transform="rotate(-90)"><text transform="matrix(0.1720 0 0 0.3454 -78.38 77.11)" font-family="Liberation Serif, serif" font-style="normal" font-size="100" fill="#404040">]</text>
<text transform="matrix(0.2903 0 0 0.3385 -91.37 74.42)" font-family="Liberation Serif, serif" font-style="normal" font-size="100" fill="#404040">.</text>
<text transform="matrix(0.3172 0 0 0.2795 -107.82 74.83)" font-family="Liberation Serif, serif" font-style="normal" font-size="100" fill="#404040">u</text>
<text transform="matrix(0.2877 0 0 0.3385 -120.80 74.42)" font-family="Liberation Serif, serif" font-style="normal" font-size="100" fill="#404040">.</text>
<text transform="matrix(0.3402 0 0 0.2818 -136.00 74.82)" font-family="Liberation Serif, serif" font-style="normal" font-size="100" fill="#404040">a</text>
<text transform="matrix(0.1752 0 0 0.3454 -142.20 77.11)" font-family="Liberation Serif, serif" font-style="normal" font-size="100" fill="#404040">[</text>
<text transform="matrix(0.3308 0 0 0.2680 -165.14 74.80)" font-family="Liberation Serif, serif" font-style="italic" font-size="100" fill="#404040">r</text></g>
<g transform="rotate(-90)"><text transform="matrix(0.1832 0 0 0.3454 -413.91 77.11)" font-family="Liberation Serif, serif" font-style="normal" font-size="100" fill="#404040">]</text>
<text transform="matrix(0.2900 0 0 0.2914 -428.55 74.82)" font-family="Liberation Serif, serif" font-style="normal" font-size="100" fill="#404040">d</text>
<text transform="matrix(0.3382 0 0 0.2818 -445.09 74.82)" font-family="Liberation Serif, serif" font-style="normal" font-size="100" fill="#404040">a</text>
<text transform="matrix(0.3123 0 0 0.2680 -456.43 74.80)" font-family="Liberation Serif, serif" font-style="normal" font-size="100" fill="#404040">r</text>
<text transform="matrix(0.3179 0 0 0.2680 -481.03 74.80)" font-family="Liberation Serif, serif" font-style="normal" font-size="100" fill="#404040">m</text>
<text transform="matrix(0.1540 0 0 0.3454 -486.74 77.11)" font-family="Liberation Serif, serif" font-style="normal" font-size="100" fill="#404040">[</text>
<text transform="matrix(0.2276 0 0 0.2167 -505.33 79.55)" font-family="Liberation Serif, serif" font-style="italic" font-size="100" fill="#404040">i</text>
<text transform="matrix(0.3131 0 0 0.2493 -523.23 74.86)" font-family="Liberation Serif, serif" font-style="italic" font-size="100" fill="#404040">σ</text></g>
</svg>
</body></html>
